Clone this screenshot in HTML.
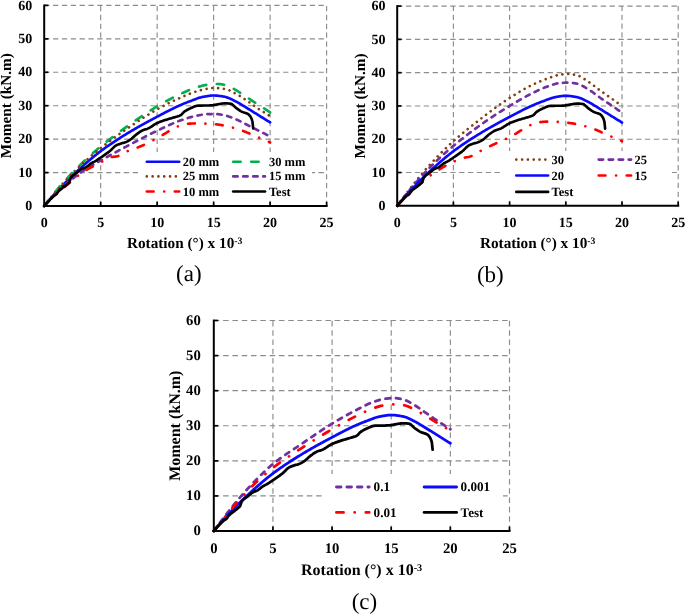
<!DOCTYPE html>
<html><head><meta charset="utf-8"><title>Moment-rotation curves</title>
<style>
html,body{margin:0;padding:0;background:#fff}
svg{display:block;text-rendering:geometricPrecision;will-change:transform}
.b{font-family:"Liberation Serif",serif;font-weight:bold;fill:#000}
.r{font-family:"Liberation Serif",serif;fill:#000}
.g{stroke:#8c8c8c;stroke-width:1.15;fill:none}
.ax{stroke:#000;stroke-width:2;fill:none}
.tk{stroke:#000;stroke-width:1.7;fill:none}
</style></head><body>
<svg width="685" height="616" viewBox="0 0 685 616">
<rect width="685" height="616" fill="#fff"/>
<line x1="44.20" y1="172.57" x2="326.60" y2="172.57" class="g" stroke-dasharray="5.30 3.55"/>
<line x1="44.20" y1="139.13" x2="326.60" y2="139.13" class="g" stroke-dasharray="5.30 3.55"/>
<line x1="44.20" y1="105.70" x2="326.60" y2="105.70" class="g" stroke-dasharray="5.30 3.55"/>
<line x1="44.20" y1="72.27" x2="326.60" y2="72.27" class="g" stroke-dasharray="5.30 3.55"/>
<line x1="44.20" y1="38.83" x2="326.60" y2="38.83" class="g" stroke-dasharray="5.30 3.55"/>
<line x1="44.20" y1="5.40" x2="326.60" y2="5.40" class="g" stroke-dasharray="5.30 3.55"/>
<line x1="100.68" y1="206.00" x2="100.68" y2="5.40" class="g" stroke-dasharray="5.30 3.55"/>
<line x1="157.16" y1="206.00" x2="157.16" y2="5.40" class="g" stroke-dasharray="5.30 3.55"/>
<line x1="213.64" y1="206.00" x2="213.64" y2="5.40" class="g" stroke-dasharray="5.30 3.55"/>
<line x1="270.12" y1="206.00" x2="270.12" y2="5.40" class="g" stroke-dasharray="5.30 3.55"/>
<line x1="326.60" y1="206.00" x2="326.60" y2="5.40" class="g" stroke-dasharray="5.30 3.55"/>
<polyline points="44.20,206.00 44.96,205.09 45.71,204.18 46.47,203.28 47.22,202.39 47.98,201.50 48.73,200.61 49.49,199.73 50.24,198.86 51.00,197.99 51.76,197.13 52.51,196.28 53.27,195.43 54.02,194.59 54.78,193.75 55.53,192.92 56.29,192.10 57.04,191.28 57.80,190.46 58.56,189.66 59.31,188.85 60.07,188.06 60.82,187.26 61.58,186.47 62.33,185.69 63.09,184.91 63.85,184.14 64.60,183.37 65.36,182.60 66.11,181.84 66.87,181.08 67.62,180.33 68.38,179.58 69.13,178.84 69.89,178.10 70.65,177.36 71.40,176.63 72.16,175.90 72.91,175.17 73.67,174.45 74.42,173.73 75.18,173.02 75.93,172.31 76.69,171.60 77.45,170.90 78.20,170.20 78.96,169.50 79.71,168.81 80.47,168.13 81.22,167.45 81.98,166.77 82.73,166.10 83.49,165.43 84.25,164.76 85.00,164.10 85.76,163.44 86.51,162.78 87.27,162.12 88.02,161.47 88.78,160.82 89.54,160.17 90.29,159.52 91.05,158.88 91.80,158.24 92.56,157.61 93.31,156.98 94.07,156.36 94.82,155.74 95.58,155.13 96.34,154.52 97.09,153.92 97.85,153.33 98.60,152.74 99.36,152.16 100.11,151.59 100.87,151.03 101.62,150.47 102.38,149.92 103.14,149.37 103.89,148.82 104.65,148.28 105.40,147.74 106.16,147.20 106.91,146.67 107.67,146.14 108.42,145.62 109.18,145.10 109.94,144.58 110.69,144.06 111.45,143.55 112.20,143.04 112.96,142.54 113.71,142.04 114.47,141.54 115.23,141.04 115.98,140.55 116.74,140.06 117.49,139.57 118.25,139.08 119.00,138.60 119.76,138.12 120.51,137.64 121.27,137.16 122.03,136.69 122.78,136.21 123.54,135.74 124.29,135.28 125.05,134.81 125.80,134.35 126.56,133.88 127.31,133.42 128.07,132.96 128.83,132.50 129.58,132.05 130.34,131.59 131.09,131.14 131.85,130.70 132.60,130.25 133.36,129.81 134.11,129.37 134.87,128.93 135.63,128.49 136.38,128.06 137.14,127.62 137.89,127.19 138.65,126.77 139.40,126.34 140.16,125.92 140.91,125.49 141.67,125.07 142.43,124.66 143.18,124.24 143.94,123.82 144.69,123.41 145.45,123.00 146.20,122.58 146.96,122.17 147.72,121.77 148.47,121.36 149.23,120.95 149.98,120.55 150.74,120.14 151.49,119.74 152.25,119.33 153.00,118.93 153.76,118.53 154.52,118.13 155.27,117.73 156.03,117.33 156.78,116.93 157.54,116.53 158.29,116.13 159.05,115.73 159.80,115.33 160.56,114.93 161.32,114.54 162.07,114.14 162.83,113.74 163.58,113.34 164.34,112.94 165.09,112.55 165.85,112.15 166.60,111.76 167.36,111.37 168.12,110.98 168.87,110.59 169.63,110.20 170.38,109.82 171.14,109.44 171.89,109.06 172.65,108.69 173.41,108.32 174.16,107.95 174.92,107.59 175.67,107.23 176.43,106.88 177.18,106.52 177.94,106.18 178.69,105.84 179.45,105.50 180.21,105.17 180.96,104.84 181.72,104.52 182.47,104.20 183.23,103.89 183.98,103.58 184.74,103.27 185.49,102.97 186.25,102.67 187.01,102.38 187.76,102.09 188.52,101.80 189.27,101.51 190.03,101.23 190.78,100.95 191.54,100.67 192.29,100.38 193.05,100.09 193.81,99.79 194.56,99.50 195.32,99.20 196.07,98.91 196.83,98.63 197.58,98.36 198.34,98.10 199.09,97.85 199.85,97.62 200.61,97.41 201.36,97.22 202.12,97.05 202.87,96.91 203.63,96.76 204.38,96.62 205.14,96.47 205.90,96.34 206.65,96.20 207.41,96.08 208.16,95.96 208.92,95.85 209.67,95.76 210.43,95.67 211.18,95.61 211.94,95.55 212.70,95.52 213.45,95.50 214.21,95.51 214.96,95.53 215.72,95.56 216.47,95.61 217.23,95.68 217.98,95.75 218.74,95.84 219.50,95.94 220.25,96.04 221.01,96.16 221.76,96.28 222.52,96.41 223.27,96.54 224.03,96.67 224.78,96.81 225.54,96.97 226.30,97.16 227.05,97.39 227.81,97.65 228.56,97.94 229.32,98.25 230.07,98.59 230.83,98.94 231.59,99.31 232.34,99.69 233.10,100.08 233.85,100.47 234.61,100.86 235.36,101.25 236.12,101.63 236.87,102.01 237.63,102.41 238.39,102.82 239.14,103.25 239.90,103.69 240.65,104.13 241.41,104.59 242.16,105.05 242.92,105.52 243.67,105.99 244.43,106.46 245.19,106.93 245.94,107.40 246.70,107.87 247.45,108.33 248.21,108.79 248.96,109.25 249.72,109.72 250.47,110.18 251.23,110.65 251.99,111.12 252.74,111.59 253.50,112.06 254.25,112.54 255.01,113.01 255.76,113.48 256.52,113.96 257.28,114.43 258.03,114.90 258.79,115.37 259.54,115.84 260.30,116.31 261.05,116.78 261.81,117.25 262.56,117.72 263.32,118.19 264.08,118.66 264.83,119.13 265.59,119.60 266.34,120.07 267.10,120.54 267.85,121.01 268.61,121.48 269.36,121.95 270.12,122.42" fill="none" stroke="#0a0aff" stroke-width="2.65" stroke-linejoin="round" stroke-linecap="round"/>
<polyline points="44.20,206.00 44.96,204.99 45.71,203.99 46.47,203.00 47.22,202.01 47.98,201.03 48.73,200.05 49.49,199.08 50.24,198.12 51.00,197.16 51.76,196.21 52.51,195.27 53.27,194.34 54.02,193.41 54.78,192.49 55.53,191.58 56.29,190.67 57.04,189.77 57.80,188.88 58.56,187.99 59.31,187.11 60.07,186.23 60.82,185.36 61.58,184.49 62.33,183.63 63.09,182.78 63.85,181.93 64.60,181.09 65.36,180.25 66.11,179.42 66.87,178.59 67.62,177.78 68.38,176.96 69.13,176.16 69.89,175.35 70.65,174.56 71.40,173.77 72.16,172.98 72.91,172.20 73.67,171.42 74.42,170.65 75.18,169.89 75.93,169.13 76.69,168.37 77.45,167.62 78.20,166.87 78.96,166.13 79.71,165.39 80.47,164.66 81.22,163.93 81.98,163.20 82.73,162.48 83.49,161.77 84.25,161.05 85.00,160.34 85.76,159.64 86.51,158.94 87.27,158.24 88.02,157.54 88.78,156.85 89.54,156.16 90.29,155.48 91.05,154.80 91.80,154.12 92.56,153.45 93.31,152.78 94.07,152.11 94.82,151.45 95.58,150.80 96.34,150.15 97.09,149.50 97.85,148.86 98.60,148.22 99.36,147.58 100.11,146.96 100.87,146.33 101.62,145.71 102.38,145.10 103.14,144.48 103.89,143.87 104.65,143.27 105.40,142.66 106.16,142.06 106.91,141.46 107.67,140.87 108.42,140.28 109.18,139.69 109.94,139.10 110.69,138.51 111.45,137.93 112.20,137.35 112.96,136.78 113.71,136.20 114.47,135.63 115.23,135.06 115.98,134.49 116.74,133.93 117.49,133.37 118.25,132.81 119.00,132.25 119.76,131.69 120.51,131.14 121.27,130.58 122.03,130.03 122.78,129.48 123.54,128.94 124.29,128.39 125.05,127.85 125.80,127.31 126.56,126.77 127.31,126.23 128.07,125.69 128.83,125.16 129.58,124.62 130.34,124.09 131.09,123.56 131.85,123.03 132.60,122.49 133.36,121.97 134.11,121.44 134.87,120.91 135.63,120.38 136.38,119.86 137.14,119.33 137.89,118.81 138.65,118.29 139.40,117.78 140.16,117.26 140.91,116.74 141.67,116.23 142.43,115.72 143.18,115.22 143.94,114.71 144.69,114.21 145.45,113.71 146.20,113.21 146.96,112.72 147.72,112.23 148.47,111.74 149.23,111.25 149.98,110.77 150.74,110.29 151.49,109.82 152.25,109.34 153.00,108.88 153.76,108.41 154.52,107.95 155.27,107.49 156.03,107.04 156.78,106.59 157.54,106.15 158.29,105.70 159.05,105.26 159.80,104.83 160.56,104.39 161.32,103.96 162.07,103.53 162.83,103.10 163.58,102.67 164.34,102.25 165.09,101.83 165.85,101.41 166.60,101.00 167.36,100.59 168.12,100.18 168.87,99.78 169.63,99.37 170.38,98.98 171.14,98.58 171.89,98.19 172.65,97.80 173.41,97.42 174.16,97.03 174.92,96.66 175.67,96.28 176.43,95.91 177.18,95.55 177.94,95.18 178.69,94.83 179.45,94.47 180.21,94.12 180.96,93.77 181.72,93.42 182.47,93.07 183.23,92.72 183.98,92.37 184.74,92.02 185.49,91.68 186.25,91.34 187.01,91.00 187.76,90.67 188.52,90.34 189.27,90.02 190.03,89.71 190.78,89.40 191.54,89.10 192.29,88.81 193.05,88.53 193.81,88.25 194.56,87.99 195.32,87.74 196.07,87.50 196.83,87.27 197.58,87.05 198.34,86.83 199.09,86.60 199.85,86.39 200.61,86.18 201.36,85.97 202.12,85.77 202.87,85.58 203.63,85.40 204.38,85.23 205.14,85.08 205.90,84.94 206.65,84.81 207.41,84.71 208.16,84.62 208.92,84.53 209.67,84.45 210.43,84.37 211.18,84.30 211.94,84.23 212.70,84.16 213.45,84.11 214.21,84.06 214.96,84.02 215.72,83.99 216.47,83.97 217.23,83.97 217.98,83.99 218.74,84.03 219.50,84.10 220.25,84.18 221.01,84.28 221.76,84.40 222.52,84.52 223.27,84.66 224.03,84.80 224.78,84.94 225.54,85.10 226.30,85.31 227.05,85.56 227.81,85.84 228.56,86.16 229.32,86.51 230.07,86.88 230.83,87.27 231.59,87.68 232.34,88.11 233.10,88.54 233.85,88.97 234.61,89.41 235.36,89.84 236.12,90.26 236.87,90.68 237.63,91.12 238.39,91.58 239.14,92.05 239.90,92.53 240.65,93.03 241.41,93.53 242.16,94.05 242.92,94.56 243.67,95.08 244.43,95.60 245.19,96.11 245.94,96.62 246.70,97.13 247.45,97.63 248.21,98.12 248.96,98.61 249.72,99.10 250.47,99.59 251.23,100.09 251.99,100.58 252.74,101.07 253.50,101.56 254.25,102.05 255.01,102.55 255.76,103.04 256.52,103.53 257.28,104.02 258.03,104.51 258.79,105.01 259.54,105.50 260.30,105.99 261.05,106.48 261.81,106.97 262.56,107.47 263.32,107.96 264.08,108.45 264.83,108.94 265.59,109.43 266.34,109.93 267.10,110.42 267.85,110.91 268.61,111.40 269.36,111.89 270.12,112.39" fill="none" stroke="#00b050" stroke-width="2.65" stroke-linejoin="round" stroke-linecap="round" stroke-dasharray="7.40 10.60"/>
<polyline points="44.20,206.00 44.96,205.02 45.71,204.04 46.47,203.07 47.22,202.10 47.98,201.14 48.73,200.19 49.49,199.24 50.24,198.30 51.00,197.37 51.76,196.44 52.51,195.52 53.27,194.61 54.02,193.70 54.78,192.80 55.53,191.91 56.29,191.03 57.04,190.15 57.80,189.27 58.56,188.41 59.31,187.54 60.07,186.68 60.82,185.83 61.58,184.98 62.33,184.14 63.09,183.31 63.85,182.48 64.60,181.65 65.36,180.83 66.11,180.02 66.87,179.21 67.62,178.41 68.38,177.62 69.13,176.83 69.89,176.04 70.65,175.26 71.40,174.49 72.16,173.72 72.91,172.95 73.67,172.19 74.42,171.43 75.18,170.68 75.93,169.94 76.69,169.19 77.45,168.46 78.20,167.73 78.96,167.00 79.71,166.28 80.47,165.57 81.22,164.86 81.98,164.15 82.73,163.45 83.49,162.76 84.25,162.07 85.00,161.39 85.76,160.71 86.51,160.04 87.27,159.37 88.02,158.70 88.78,158.04 89.54,157.39 90.29,156.73 91.05,156.09 91.80,155.44 92.56,154.80 93.31,154.17 94.07,153.53 94.82,152.90 95.58,152.28 96.34,151.66 97.09,151.04 97.85,150.43 98.60,149.82 99.36,149.21 100.11,148.61 100.87,148.01 101.62,147.41 102.38,146.82 103.14,146.23 103.89,145.64 104.65,145.05 105.40,144.47 106.16,143.89 106.91,143.31 107.67,142.74 108.42,142.16 109.18,141.59 109.94,141.02 110.69,140.45 111.45,139.89 112.20,139.33 112.96,138.77 113.71,138.21 114.47,137.66 115.23,137.10 115.98,136.55 116.74,136.00 117.49,135.46 118.25,134.91 119.00,134.37 119.76,133.83 120.51,133.29 121.27,132.75 122.03,132.22 122.78,131.69 123.54,131.16 124.29,130.63 125.05,130.10 125.80,129.58 126.56,129.05 127.31,128.53 128.07,128.01 128.83,127.50 129.58,126.98 130.34,126.46 131.09,125.95 131.85,125.43 132.60,124.92 133.36,124.41 134.11,123.90 134.87,123.39 135.63,122.88 136.38,122.37 137.14,121.86 137.89,121.36 138.65,120.86 139.40,120.35 140.16,119.85 140.91,119.36 141.67,118.86 142.43,118.37 143.18,117.88 143.94,117.39 144.69,116.91 145.45,116.42 146.20,115.94 146.96,115.47 147.72,114.99 148.47,114.52 149.23,114.06 149.98,113.59 150.74,113.13 151.49,112.68 152.25,112.22 153.00,111.77 153.76,111.33 154.52,110.89 155.27,110.45 156.03,110.02 156.78,109.59 157.54,109.17 158.29,108.75 159.05,108.33 159.80,107.91 160.56,107.50 161.32,107.09 162.07,106.68 162.83,106.28 163.58,105.87 164.34,105.48 165.09,105.08 165.85,104.69 166.60,104.30 167.36,103.91 168.12,103.52 168.87,103.14 169.63,102.77 170.38,102.39 171.14,102.02 171.89,101.65 172.65,101.28 173.41,100.92 174.16,100.56 174.92,100.21 175.67,99.86 176.43,99.51 177.18,99.16 177.94,98.82 178.69,98.48 179.45,98.14 180.21,97.81 180.96,97.48 181.72,97.14 182.47,96.81 183.23,96.48 183.98,96.15 184.74,95.82 185.49,95.50 186.25,95.18 187.01,94.86 187.76,94.54 188.52,94.23 189.27,93.93 190.03,93.63 190.78,93.34 191.54,93.05 192.29,92.77 193.05,92.50 193.81,92.24 194.56,91.99 195.32,91.74 196.07,91.51 196.83,91.29 197.58,91.07 198.34,90.85 199.09,90.64 199.85,90.43 200.61,90.23 201.36,90.04 202.12,89.85 202.87,89.66 203.63,89.49 204.38,89.32 205.14,89.16 205.90,89.01 206.65,88.87 207.41,88.74 208.16,88.62 208.92,88.50 209.67,88.38 210.43,88.26 211.18,88.16 211.94,88.07 212.70,88.01 213.45,87.98 214.21,87.98 214.96,88.00 215.72,88.02 216.47,88.06 217.23,88.10 217.98,88.16 218.74,88.22 219.50,88.29 220.25,88.37 221.01,88.46 221.76,88.55 222.52,88.64 223.27,88.75 224.03,88.85 224.78,88.96 225.54,89.09 226.30,89.27 227.05,89.49 227.81,89.75 228.56,90.04 229.32,90.37 230.07,90.72 230.83,91.09 231.59,91.48 232.34,91.89 233.10,92.30 233.85,92.71 234.61,93.13 235.36,93.54 236.12,93.94 236.87,94.34 237.63,94.75 238.39,95.18 239.14,95.62 239.90,96.07 240.65,96.53 241.41,97.00 242.16,97.49 242.92,97.97 243.67,98.47 244.43,98.96 245.19,99.46 245.94,99.96 246.70,100.47 247.45,100.97 248.21,101.48 248.96,101.99 249.72,102.52 250.47,103.06 251.23,103.61 251.99,104.16 252.74,104.71 253.50,105.27 254.25,105.82 255.01,106.37 255.76,106.92 256.52,107.46 257.28,107.99 258.03,108.51 258.79,109.02 259.54,109.52 260.30,110.01 261.05,110.50 261.81,110.99 262.56,111.47 263.32,111.95 264.08,112.43 264.83,112.90 265.59,113.36 266.34,113.83 267.10,114.28 267.85,114.73 268.61,115.18 269.36,115.63 270.12,116.06" fill="none" stroke="#843c0c" stroke-width="2.65" stroke-linejoin="round" stroke-linecap="round" stroke-dasharray="0.01 5.80"/>
<polyline points="44.20,206.00 44.96,205.15 45.71,204.30 46.47,203.45 47.22,202.62 47.98,201.79 48.73,200.97 49.49,200.16 50.24,199.35 51.00,198.55 51.76,197.76 52.51,196.97 53.27,196.20 54.02,195.43 54.78,194.68 55.53,193.93 56.29,193.18 57.04,192.45 57.80,191.72 58.56,190.99 59.31,190.27 60.07,189.56 60.82,188.85 61.58,188.15 62.33,187.45 63.09,186.76 63.85,186.08 64.60,185.41 65.36,184.74 66.11,184.08 66.87,183.43 67.62,182.79 68.38,182.15 69.13,181.53 69.89,180.90 70.65,180.29 71.40,179.68 72.16,179.07 72.91,178.47 73.67,177.88 74.42,177.29 75.18,176.71 75.93,176.13 76.69,175.56 77.45,174.99 78.20,174.44 78.96,173.88 79.71,173.34 80.47,172.80 81.22,172.27 81.98,171.75 82.73,171.23 83.49,170.72 84.25,170.22 85.00,169.73 85.76,169.25 86.51,168.77 87.27,168.30 88.02,167.83 88.78,167.37 89.54,166.92 90.29,166.47 91.05,166.02 91.80,165.58 92.56,165.14 93.31,164.71 94.07,164.28 94.82,163.84 95.58,163.42 96.34,162.99 97.09,162.56 97.85,162.13 98.60,161.71 99.36,161.28 100.11,160.85 100.87,160.42 101.62,159.99 102.38,159.57 103.14,159.14 103.89,158.71 104.65,158.29 105.40,157.87 106.16,157.44 106.91,157.02 107.67,156.60 108.42,156.18 109.18,155.77 109.94,155.35 110.69,154.93 111.45,154.52 112.20,154.10 112.96,153.69 113.71,153.28 114.47,152.87 115.23,152.46 115.98,152.05 116.74,151.64 117.49,151.23 118.25,150.83 119.00,150.42 119.76,150.01 120.51,149.61 121.27,149.21 122.03,148.80 122.78,148.40 123.54,148.00 124.29,147.60 125.05,147.20 125.80,146.80 126.56,146.40 127.31,146.00 128.07,145.60 128.83,145.20 129.58,144.80 130.34,144.41 131.09,144.01 131.85,143.61 132.60,143.21 133.36,142.82 134.11,142.42 134.87,142.02 135.63,141.63 136.38,141.23 137.14,140.84 137.89,140.44 138.65,140.05 139.40,139.66 140.16,139.26 140.91,138.87 141.67,138.48 142.43,138.09 143.18,137.70 143.94,137.32 144.69,136.93 145.45,136.54 146.20,136.16 146.96,135.78 147.72,135.40 148.47,135.02 149.23,134.64 149.98,134.26 150.74,133.89 151.49,133.51 152.25,133.14 153.00,132.77 153.76,132.41 154.52,132.04 155.27,131.68 156.03,131.31 156.78,130.95 157.54,130.60 158.29,130.24 159.05,129.88 159.80,129.52 160.56,129.15 161.32,128.79 162.07,128.43 162.83,128.07 163.58,127.71 164.34,127.35 165.09,126.99 165.85,126.63 166.60,126.28 167.36,125.92 168.12,125.57 168.87,125.23 169.63,124.88 170.38,124.54 171.14,124.21 171.89,123.87 172.65,123.55 173.41,123.22 174.16,122.91 174.92,122.59 175.67,122.29 176.43,121.99 177.18,121.69 177.94,121.40 178.69,121.12 179.45,120.85 180.21,120.59 180.96,120.32 181.72,120.06 182.47,119.80 183.23,119.54 183.98,119.28 184.74,119.02 185.49,118.77 186.25,118.53 187.01,118.28 187.76,118.04 188.52,117.81 189.27,117.58 190.03,117.36 190.78,117.15 191.54,116.94 192.29,116.74 193.05,116.54 193.81,116.36 194.56,116.18 195.32,116.01 196.07,115.85 196.83,115.70 197.58,115.56 198.34,115.40 199.09,115.25 199.85,115.10 200.61,114.95 201.36,114.80 202.12,114.66 202.87,114.53 203.63,114.41 204.38,114.31 205.14,114.22 205.90,114.15 206.65,114.10 207.41,114.07 208.16,114.06 208.92,114.06 209.67,114.06 210.43,114.06 211.18,114.06 211.94,114.06 212.70,114.06 213.45,114.06 214.21,114.06 214.96,114.06 215.72,114.06 216.47,114.07 217.23,114.10 217.98,114.16 218.74,114.25 219.50,114.35 220.25,114.47 221.01,114.60 221.76,114.74 222.52,114.89 223.27,115.05 224.03,115.21 224.78,115.36 225.54,115.53 226.30,115.71 227.05,115.92 227.81,116.14 228.56,116.39 229.32,116.64 230.07,116.91 230.83,117.20 231.59,117.49 232.34,117.79 233.10,118.10 233.85,118.41 234.61,118.73 235.36,119.04 236.12,119.36 236.87,119.68 237.63,120.02 238.39,120.37 239.14,120.73 239.90,121.11 240.65,121.49 241.41,121.88 242.16,122.28 242.92,122.68 243.67,123.08 244.43,123.48 245.19,123.88 245.94,124.28 246.70,124.67 247.45,125.05 248.21,125.43 248.96,125.81 249.72,126.19 250.47,126.57 251.23,126.95 251.99,127.33 252.74,127.71 253.50,128.09 254.25,128.47 255.01,128.86 255.76,129.24 256.52,129.62 257.28,130.00 258.03,130.38 258.79,130.76 259.54,131.14 260.30,131.52 261.05,131.90 261.81,132.28 262.56,132.66 263.32,133.04 264.08,133.42 264.83,133.80 265.59,134.18 266.34,134.56 267.10,134.94 267.85,135.32 268.61,135.70 269.36,136.08 270.12,136.46" fill="none" stroke="#7030a0" stroke-width="2.65" stroke-linejoin="round" stroke-linecap="round" stroke-dasharray="4.40 5.60"/>
<polyline points="44.20,206.00 44.96,205.23 45.71,204.46 46.47,203.69 47.22,202.93 47.98,202.17 48.73,201.42 49.49,200.68 50.24,199.94 51.00,199.21 51.76,198.48 52.51,197.76 53.27,197.04 54.02,196.33 54.78,195.63 55.53,194.93 56.29,194.24 57.04,193.56 57.80,192.88 58.56,192.21 59.31,191.54 60.07,190.88 60.82,190.22 61.58,189.56 62.33,188.91 63.09,188.27 63.85,187.62 64.60,186.98 65.36,186.35 66.11,185.71 66.87,185.08 67.62,184.45 68.38,183.82 69.13,183.20 69.89,182.57 70.65,181.93 71.40,181.29 72.16,180.65 72.91,180.00 73.67,179.36 74.42,178.72 75.18,178.08 75.93,177.45 76.69,176.83 77.45,176.21 78.20,175.60 78.96,175.00 79.71,174.41 80.47,173.84 81.22,173.29 81.98,172.75 82.73,172.22 83.49,171.72 84.25,171.24 85.00,170.77 85.76,170.32 86.51,169.87 87.27,169.44 88.02,169.02 88.78,168.60 89.54,168.20 90.29,167.80 91.05,167.41 91.80,167.02 92.56,166.64 93.31,166.26 94.07,165.88 94.82,165.50 95.58,165.13 96.34,164.75 97.09,164.38 97.85,164.00 98.60,163.61 99.36,163.23 100.11,162.83 100.87,162.44 101.62,162.01 102.38,161.57 103.14,161.10 103.89,160.63 104.65,160.16 105.40,159.69 106.16,159.24 106.91,158.81 107.67,158.40 108.42,158.03 109.18,157.71 109.94,157.44 110.69,157.22 111.45,157.06 112.20,156.94 112.96,156.83 113.71,156.75 114.47,156.66 115.23,156.57 115.98,156.48 116.74,156.36 117.49,156.21 118.25,156.02 119.00,155.75 119.76,155.41 120.51,155.03 121.27,154.61 122.03,154.16 122.78,153.69 123.54,153.22 124.29,152.76 125.05,152.32 125.80,151.91 126.56,151.55 127.31,151.22 128.07,150.91 128.83,150.62 129.58,150.33 130.34,150.05 131.09,149.78 131.85,149.52 132.60,149.25 133.36,149.00 134.11,148.74 134.87,148.48 135.63,148.22 136.38,147.96 137.14,147.68 137.89,147.41 138.65,147.12 139.40,146.82 140.16,146.51 140.91,146.19 141.67,145.86 142.43,145.53 143.18,145.19 143.94,144.84 144.69,144.49 145.45,144.13 146.20,143.77 146.96,143.40 147.72,143.03 148.47,142.65 149.23,142.27 149.98,141.89 150.74,141.50 151.49,141.11 152.25,140.72 153.00,140.32 153.76,139.93 154.52,139.53 155.27,139.13 156.03,138.73 156.78,138.33 157.54,137.93 158.29,137.52 159.05,137.10 159.80,136.67 160.56,136.23 161.32,135.78 162.07,135.34 162.83,134.88 163.58,134.43 164.34,133.97 165.09,133.51 165.85,133.05 166.60,132.60 167.36,132.15 168.12,131.70 168.87,131.25 169.63,130.82 170.38,130.39 171.14,129.97 171.89,129.56 172.65,129.16 173.41,128.78 174.16,128.41 174.92,128.03 175.67,127.63 176.43,127.23 177.18,126.82 177.94,126.42 178.69,126.02 179.45,125.64 180.21,125.29 180.96,124.97 181.72,124.68 182.47,124.44 183.23,124.25 183.98,124.12 184.74,124.04 185.49,123.97 186.25,123.91 187.01,123.84 187.76,123.78 188.52,123.73 189.27,123.68 190.03,123.63 190.78,123.59 191.54,123.55 192.29,123.51 193.05,123.48 193.81,123.46 194.56,123.44 195.32,123.43 196.07,123.42 196.83,123.42 197.58,123.42 198.34,123.43 199.09,123.44 199.85,123.45 200.61,123.47 201.36,123.48 202.12,123.50 202.87,123.53 203.63,123.56 204.38,123.58 205.14,123.62 205.90,123.65 206.65,123.68 207.41,123.72 208.16,123.76 208.92,123.80 209.67,123.84 210.43,123.89 211.18,123.93 211.94,123.98 212.70,124.03 213.45,124.08 214.21,124.13 214.96,124.19 215.72,124.27 216.47,124.35 217.23,124.45 217.98,124.55 218.74,124.66 219.50,124.78 220.25,124.91 221.01,125.04 221.76,125.17 222.52,125.31 223.27,125.45 224.03,125.59 224.78,125.73 225.54,125.88 226.30,126.03 227.05,126.19 227.81,126.36 228.56,126.54 229.32,126.72 230.07,126.91 230.83,127.11 231.59,127.31 232.34,127.52 233.10,127.73 233.85,127.95 234.61,128.17 235.36,128.39 236.12,128.62 236.87,128.86 237.63,129.10 238.39,129.34 239.14,129.58 239.90,129.83 240.65,130.07 241.41,130.33 242.16,130.59 242.92,130.87 243.67,131.15 244.43,131.45 245.19,131.75 245.94,132.05 246.70,132.37 247.45,132.68 248.21,133.00 248.96,133.33 249.72,133.65 250.47,133.97 251.23,134.30 251.99,134.62 252.74,134.94 253.50,135.26 254.25,135.57 255.01,135.89 255.76,136.21 256.52,136.53 257.28,136.85 258.03,137.17 258.79,137.49 259.54,137.82 260.30,138.14 261.05,138.47 261.81,138.80 262.56,139.12 263.32,139.45 264.08,139.79 264.83,140.12 265.59,140.45 266.34,140.79 267.10,141.12 267.85,141.46 268.61,141.80 269.36,142.14 270.12,142.48" fill="none" stroke="#ff0000" stroke-width="2.65" stroke-linejoin="round" stroke-linecap="round" stroke-dasharray="6.80 10.60 0.01 10.60"/>
<polyline points="44.20,206.00 44.90,205.19 45.60,204.40 46.30,203.61 47.00,202.84 47.69,202.09 48.39,201.34 49.09,200.61 49.79,199.89 50.49,199.16 51.19,198.45 51.89,197.76 52.59,197.09 53.29,196.47 53.98,195.91 54.68,195.45 55.38,195.02 56.08,194.52 56.78,193.82 57.48,192.71 58.18,191.63 58.88,190.87 59.58,190.22 60.28,189.64 60.97,189.11 61.67,188.59 62.37,188.07 63.07,187.52 63.77,186.97 64.47,186.44 65.17,185.91 65.87,185.38 66.57,184.82 67.26,184.22 67.96,183.60 68.66,182.99 69.36,182.15 70.06,180.11 70.76,178.05 71.46,177.08 72.16,176.28 72.86,175.62 73.55,175.06 74.25,174.58 74.95,174.13 75.65,173.68 76.35,173.21 77.05,172.66 77.75,172.06 78.45,171.45 79.15,170.85 79.84,170.27 80.54,169.73 81.24,169.26 81.94,168.87 82.64,168.54 83.34,168.26 84.04,168.00 84.74,167.73 85.44,167.44 86.13,167.10 86.83,166.67 87.53,166.16 88.23,165.60 88.93,165.01 89.63,164.43 90.33,163.90 91.03,163.43 91.73,163.02 92.43,162.65 93.12,162.29 93.82,161.93 94.52,161.57 95.22,161.19 95.92,160.77 96.62,160.33 97.32,159.88 98.02,159.41 98.72,158.94 99.41,158.45 100.11,157.97 100.81,157.49 101.51,157.00 102.21,156.53 102.91,156.05 103.61,155.58 104.31,155.10 105.01,154.62 105.70,154.13 106.40,153.64 107.10,153.14 107.80,152.63 108.50,152.11 109.20,151.58 109.90,151.02 110.60,150.41 111.30,149.75 111.99,149.05 112.69,148.34 113.39,147.63 114.09,146.96 114.79,146.33 115.49,145.78 116.19,145.32 116.89,144.96 117.59,144.65 118.29,144.38 118.98,144.14 119.68,143.91 120.38,143.68 121.08,143.46 121.78,143.24 122.48,143.05 123.18,142.86 123.88,142.67 124.58,142.47 125.27,142.24 125.97,141.97 126.67,141.67 127.37,141.33 128.07,140.97 128.77,140.58 129.47,140.16 130.17,139.73 130.87,139.24 131.56,138.69 132.26,138.10 132.96,137.48 133.66,136.84 134.36,136.20 135.06,135.57 135.76,134.96 136.46,134.40 137.16,133.88 137.85,133.37 138.55,132.86 139.25,132.36 139.95,131.89 140.65,131.44 141.35,131.02 142.05,130.65 142.75,130.32 143.45,130.04 144.15,129.79 144.84,129.56 145.54,129.35 146.24,129.13 146.94,128.89 147.64,128.63 148.34,128.34 149.04,128.00 149.74,127.62 150.44,127.21 151.13,126.77 151.83,126.32 152.53,125.86 153.23,125.39 153.93,124.93 154.63,124.48 155.33,124.06 156.03,123.66 156.73,123.29 157.42,122.97 158.12,122.66 158.82,122.37 159.52,122.08 160.22,121.81 160.92,121.55 161.62,121.29 162.32,121.04 163.02,120.80 163.71,120.56 164.41,120.33 165.11,120.10 165.81,119.87 166.51,119.64 167.21,119.42 167.91,119.21 168.61,119.00 169.31,118.80 170.00,118.60 170.70,118.41 171.40,118.21 172.10,118.01 172.80,117.80 173.50,117.59 174.20,117.37 174.90,117.16 175.60,116.96 176.30,116.76 176.99,116.57 177.69,116.36 178.39,116.13 179.09,115.88 179.79,115.59 180.49,115.27 181.19,114.87 181.89,114.24 182.59,113.46 183.28,112.65 183.98,111.95 184.68,111.43 185.38,110.96 186.08,110.52 186.78,110.11 187.48,109.72 188.18,109.36 188.88,109.01 189.57,108.69 190.27,108.37 190.97,108.07 191.67,107.77 192.37,107.46 193.07,107.14 193.77,106.83 194.47,106.54 195.17,106.28 195.86,106.05 196.56,105.88 197.26,105.75 197.96,105.69 198.66,105.66 199.36,105.63 200.06,105.61 200.76,105.59 201.46,105.57 202.16,105.56 202.85,105.55 203.55,105.54 204.25,105.53 204.95,105.52 205.65,105.51 206.35,105.50 207.05,105.49 207.75,105.48 208.45,105.46 209.14,105.45 209.84,105.43 210.54,105.40 211.24,105.37 211.94,105.33 212.64,105.26 213.34,105.16 214.04,105.04 214.74,104.91 215.43,104.77 216.13,104.62 216.83,104.47 217.53,104.33 218.23,104.20 218.93,104.08 219.63,103.98 220.33,103.87 221.03,103.76 221.72,103.65 222.42,103.55 223.12,103.47 223.82,103.40 224.52,103.37 225.22,103.36 225.92,103.37 226.62,103.39 227.32,103.42 228.02,103.47 228.71,103.52 229.41,103.58 230.11,103.64 230.81,103.73 231.51,103.99 232.21,104.42 232.91,104.99 233.61,105.64 234.31,106.33 235.00,107.01 235.70,107.63 236.40,108.16 237.10,108.66 237.80,109.16 238.50,109.65 239.20,110.13 239.90,110.59 240.60,111.03 241.29,111.42 241.99,111.77 242.69,112.07 243.39,112.31 244.09,112.53 244.79,112.73 245.49,112.94 246.19,113.17 246.89,113.44 247.58,113.77 248.28,114.18 248.98,114.76 249.68,115.54 250.38,116.52 251.08,117.69 251.78,119.24 252.48,121.76 253.18,128.43" fill="none" stroke="#000000" stroke-width="2.65" stroke-linejoin="round" stroke-linecap="round"/>
<rect x="141" y="152" width="171" height="48.5" fill="#fff"/>
<line x1="146.8" y1="161.7" x2="179.2" y2="161.7" stroke="#0a0aff" stroke-width="2.65" stroke-linecap="round"/>
<text x="182.8" y="165.76" class="b" font-size="12.50">20 mm</text>
<line x1="233.2" y1="161.7" x2="265.0" y2="161.7" stroke="#00b050" stroke-width="2.65" stroke-linecap="round" stroke-dasharray="7.40 10.60"/>
<text x="268.9" y="165.76" class="b" font-size="12.50">30 mm</text>
<line x1="146.8" y1="176.4" x2="179.2" y2="176.4" stroke="#843c0c" stroke-width="2.65" stroke-linecap="round" stroke-dasharray="0.01 5.80"/>
<text x="182.8" y="180.46" class="b" font-size="12.50">25 mm</text>
<line x1="233.2" y1="176.4" x2="265.0" y2="176.4" stroke="#7030a0" stroke-width="2.65" stroke-linecap="round" stroke-dasharray="4.40 5.60"/>
<text x="268.9" y="180.46" class="b" font-size="12.50">15 mm</text>
<line x1="146.8" y1="191.5" x2="179.2" y2="191.5" stroke="#ff0000" stroke-width="2.65" stroke-linecap="round" stroke-dasharray="6.80 10.60 0.01 10.60"/>
<text x="182.8" y="195.56" class="b" font-size="12.50">10 mm</text>
<line x1="233.2" y1="191.5" x2="265.0" y2="191.5" stroke="#000000" stroke-width="2.65" stroke-linecap="round"/>
<text x="268.9" y="195.56" class="b" font-size="12.50">Test</text>
<line x1="44.20" y1="4.50" x2="44.20" y2="207.00" class="ax"/>
<line x1="43.20" y1="206.00" x2="327.60" y2="206.00" class="ax"/>
<line x1="44.20" y1="172.57" x2="48.40" y2="172.57" class="tk"/>
<line x1="44.20" y1="139.13" x2="48.40" y2="139.13" class="tk"/>
<line x1="44.20" y1="105.70" x2="48.40" y2="105.70" class="tk"/>
<line x1="44.20" y1="72.27" x2="48.40" y2="72.27" class="tk"/>
<line x1="44.20" y1="38.83" x2="48.40" y2="38.83" class="tk"/>
<line x1="44.20" y1="5.40" x2="48.40" y2="5.40" class="tk"/>
<line x1="100.68" y1="206.00" x2="100.68" y2="201.80" class="tk"/>
<line x1="157.16" y1="206.00" x2="157.16" y2="201.80" class="tk"/>
<line x1="213.64" y1="206.00" x2="213.64" y2="201.80" class="tk"/>
<line x1="270.12" y1="206.00" x2="270.12" y2="201.80" class="tk"/>
<line x1="326.60" y1="206.00" x2="326.60" y2="201.80" class="tk"/>
<text x="32.20" y="210.20" class="b" text-anchor="end" font-size="14.00">0</text>
<text x="32.20" y="176.77" class="b" text-anchor="end" font-size="14.00">10</text>
<text x="32.20" y="143.33" class="b" text-anchor="end" font-size="14.00">20</text>
<text x="32.20" y="109.90" class="b" text-anchor="end" font-size="14.00">30</text>
<text x="32.20" y="76.47" class="b" text-anchor="end" font-size="14.00">40</text>
<text x="32.20" y="43.03" class="b" text-anchor="end" font-size="14.00">50</text>
<text x="32.20" y="9.60" class="b" text-anchor="end" font-size="14.00">60</text>
<text x="44.20" y="227.30" class="b" text-anchor="middle" font-size="14.00">0</text>
<text x="100.68" y="227.30" class="b" text-anchor="middle" font-size="14.00">5</text>
<text x="157.16" y="227.30" class="b" text-anchor="middle" font-size="14.00">10</text>
<text x="213.64" y="227.30" class="b" text-anchor="middle" font-size="14.00">15</text>
<text x="270.12" y="227.30" class="b" text-anchor="middle" font-size="14.00">20</text>
<text x="326.60" y="227.30" class="b" text-anchor="middle" font-size="14.00">25</text>
<text x="184.70" y="248.00" class="b" text-anchor="middle" font-size="15.25">Rotation (°) x 10<tspan dy="-4.1" font-size="9.80">-3</tspan></text>
<text transform="translate(11.40,105.70) rotate(-90)" class="b" text-anchor="middle" font-size="15.25">Moment (kN.m)</text>
<text x="188.8" y="281.3" class="r" text-anchor="middle" font-size="23">(a)</text>
<line x1="397.20" y1="172.52" x2="678.20" y2="172.52" class="g" stroke-dasharray="5.30 3.55"/>
<line x1="397.20" y1="139.23" x2="678.20" y2="139.23" class="g" stroke-dasharray="5.30 3.55"/>
<line x1="397.20" y1="105.95" x2="678.20" y2="105.95" class="g" stroke-dasharray="5.30 3.55"/>
<line x1="397.20" y1="72.67" x2="678.20" y2="72.67" class="g" stroke-dasharray="5.30 3.55"/>
<line x1="397.20" y1="39.38" x2="678.20" y2="39.38" class="g" stroke-dasharray="5.30 3.55"/>
<line x1="397.20" y1="6.10" x2="678.20" y2="6.10" class="g" stroke-dasharray="5.30 3.55"/>
<line x1="453.40" y1="205.80" x2="453.40" y2="6.10" class="g" stroke-dasharray="5.30 3.55"/>
<line x1="509.60" y1="205.80" x2="509.60" y2="6.10" class="g" stroke-dasharray="5.30 3.55"/>
<line x1="565.80" y1="205.80" x2="565.80" y2="6.10" class="g" stroke-dasharray="5.30 3.55"/>
<line x1="622.00" y1="205.80" x2="622.00" y2="6.10" class="g" stroke-dasharray="5.30 3.55"/>
<line x1="678.20" y1="205.80" x2="678.20" y2="6.10" class="g" stroke-dasharray="5.30 3.55"/>
<polyline points="397.20,205.80 397.95,204.77 398.70,203.75 399.46,202.73 400.21,201.72 400.96,200.70 401.71,199.69 402.46,198.69 403.21,197.69 403.97,196.69 404.72,195.69 405.47,194.70 406.22,193.71 406.97,192.73 407.73,191.75 408.48,190.77 409.23,189.80 409.98,188.83 410.73,187.85 411.48,186.88 412.24,185.91 412.99,184.95 413.74,183.99 414.49,183.03 415.24,182.07 416.00,181.12 416.75,180.18 417.50,179.24 418.25,178.30 419.00,177.38 419.76,176.46 420.51,175.55 421.26,174.64 422.01,173.75 422.76,172.86 423.51,171.98 424.27,171.10 425.02,170.23 425.77,169.36 426.52,168.50 427.27,167.64 428.03,166.79 428.78,165.94 429.53,165.10 430.28,164.26 431.03,163.43 431.78,162.61 432.54,161.79 433.29,160.98 434.04,160.17 434.79,159.37 435.54,158.58 436.30,157.79 437.05,157.01 437.80,156.24 438.55,155.47 439.30,154.70 440.05,153.94 440.81,153.18 441.56,152.43 442.31,151.68 443.06,150.94 443.81,150.20 444.57,149.47 445.32,148.74 446.07,148.02 446.82,147.30 447.57,146.59 448.33,145.88 449.08,145.17 449.83,144.48 450.58,143.78 451.33,143.10 452.08,142.41 452.84,141.73 453.59,141.06 454.34,140.39 455.09,139.73 455.84,139.07 456.60,138.41 457.35,137.76 458.10,137.11 458.85,136.47 459.60,135.83 460.35,135.19 461.11,134.55 461.86,133.92 462.61,133.29 463.36,132.66 464.11,132.04 464.87,131.42 465.62,130.80 466.37,130.19 467.12,129.57 467.87,128.96 468.62,128.36 469.38,127.75 470.13,127.15 470.88,126.55 471.63,125.95 472.38,125.36 473.14,124.76 473.89,124.17 474.64,123.58 475.39,122.99 476.14,122.40 476.89,121.82 477.65,121.24 478.40,120.65 479.15,120.07 479.90,119.49 480.65,118.91 481.41,118.34 482.16,117.76 482.91,117.18 483.66,116.61 484.41,116.03 485.17,115.46 485.92,114.89 486.67,114.31 487.42,113.74 488.17,113.17 488.92,112.60 489.68,112.03 490.43,111.47 491.18,110.90 491.93,110.34 492.68,109.78 493.44,109.22 494.19,108.67 494.94,108.11 495.69,107.56 496.44,107.01 497.19,106.47 497.95,105.92 498.70,105.38 499.45,104.85 500.20,104.31 500.95,103.78 501.71,103.25 502.46,102.73 503.21,102.21 503.96,101.70 504.71,101.18 505.46,100.68 506.22,100.17 506.97,99.67 507.72,99.18 508.47,98.69 509.22,98.20 509.98,97.72 510.73,97.24 511.48,96.76 512.23,96.29 512.98,95.81 513.74,95.34 514.49,94.87 515.24,94.41 515.99,93.94 516.74,93.48 517.49,93.02 518.25,92.57 519.00,92.11 519.75,91.66 520.50,91.22 521.25,90.78 522.01,90.34 522.76,89.91 523.51,89.48 524.26,89.06 525.01,88.64 525.76,88.23 526.52,87.82 527.27,87.42 528.02,87.02 528.77,86.63 529.52,86.24 530.28,85.86 531.03,85.49 531.78,85.13 532.53,84.77 533.28,84.41 534.03,84.06 534.79,83.71 535.54,83.37 536.29,83.03 537.04,82.69 537.79,82.36 538.55,82.03 539.30,81.71 540.05,81.39 540.80,81.08 541.55,80.77 542.31,80.46 543.06,80.16 543.81,79.87 544.56,79.58 545.31,79.29 546.06,79.01 546.82,78.74 547.57,78.47 548.32,78.21 549.07,77.95 549.82,77.69 550.58,77.42 551.33,77.15 552.08,76.88 552.83,76.62 553.58,76.35 554.33,76.10 555.09,75.86 555.84,75.63 556.59,75.41 557.34,75.21 558.09,75.03 558.85,74.88 559.60,74.75 560.35,74.64 561.10,74.55 561.85,74.45 562.60,74.37 563.36,74.28 564.11,74.21 564.86,74.14 565.61,74.08 566.36,74.04 567.12,74.01 567.87,74.00 568.62,74.01 569.37,74.04 570.12,74.09 570.87,74.17 571.63,74.27 572.38,74.38 573.13,74.51 573.88,74.65 574.63,74.80 575.39,74.96 576.14,75.12 576.89,75.29 577.64,75.49 578.39,75.73 579.15,76.03 579.90,76.37 580.65,76.75 581.40,77.16 582.15,77.60 582.90,78.07 583.66,78.56 584.41,79.06 585.16,79.56 585.91,80.08 586.66,80.59 587.42,81.09 588.17,81.58 588.92,82.07 589.67,82.58 590.42,83.10 591.17,83.64 591.93,84.20 592.68,84.76 593.43,85.33 594.18,85.91 594.93,86.49 595.69,87.07 596.44,87.65 597.19,88.23 597.94,88.80 598.69,89.37 599.44,89.92 600.20,90.46 600.95,91.00 601.70,91.54 602.45,92.08 603.20,92.62 603.96,93.15 604.71,93.68 605.46,94.21 606.21,94.75 606.96,95.28 607.72,95.81 608.47,96.34 609.22,96.87 609.97,97.40 610.72,97.94 611.47,98.47 612.23,99.00 612.98,99.54 613.73,100.07 614.48,100.61 615.23,101.14 615.99,101.68 616.74,102.21 617.49,102.74 618.24,103.28 618.99,103.81 619.74,104.35 620.50,104.88 621.25,105.42 622.00,105.95" fill="none" stroke="#843c0c" stroke-width="2.65" stroke-linejoin="round" stroke-linecap="round" stroke-dasharray="0.01 5.80"/>
<polyline points="397.20,205.80 397.95,204.81 398.70,203.82 399.46,202.83 400.21,201.85 400.96,200.88 401.71,199.91 402.46,198.95 403.21,197.99 403.97,197.04 404.72,196.09 405.47,195.15 406.22,194.21 406.97,193.28 407.73,192.36 408.48,191.44 409.23,190.53 409.98,189.62 410.73,188.72 411.48,187.82 412.24,186.92 412.99,186.03 413.74,185.14 414.49,184.26 415.24,183.38 416.00,182.51 416.75,181.65 417.50,180.79 418.25,179.93 419.00,179.08 419.76,178.24 420.51,177.41 421.26,176.58 422.01,175.75 422.76,174.94 423.51,174.13 424.27,173.32 425.02,172.52 425.77,171.72 426.52,170.93 427.27,170.14 428.03,169.36 428.78,168.58 429.53,167.81 430.28,167.04 431.03,166.28 431.78,165.52 432.54,164.77 433.29,164.02 434.04,163.28 434.79,162.55 435.54,161.82 436.30,161.10 437.05,160.38 437.80,159.67 438.55,158.97 439.30,158.27 440.05,157.57 440.81,156.88 441.56,156.19 442.31,155.50 443.06,154.82 443.81,154.15 444.57,153.48 445.32,152.81 446.07,152.15 446.82,151.49 447.57,150.83 448.33,150.18 449.08,149.54 449.83,148.89 450.58,148.25 451.33,147.62 452.08,146.99 452.84,146.36 453.59,145.73 454.34,145.11 455.09,144.49 455.84,143.87 456.60,143.26 457.35,142.65 458.10,142.03 458.85,141.43 459.60,140.82 460.35,140.22 461.11,139.62 461.86,139.02 462.61,138.42 463.36,137.83 464.11,137.23 464.87,136.64 465.62,136.06 466.37,135.47 467.12,134.89 467.87,134.31 468.62,133.73 469.38,133.16 470.13,132.59 470.88,132.02 471.63,131.45 472.38,130.89 473.14,130.33 473.89,129.77 474.64,129.21 475.39,128.66 476.14,128.11 476.89,127.56 477.65,127.01 478.40,126.47 479.15,125.93 479.90,125.39 480.65,124.85 481.41,124.32 482.16,123.79 482.91,123.27 483.66,122.74 484.41,122.22 485.17,121.70 485.92,121.18 486.67,120.66 487.42,120.15 488.17,119.64 488.92,119.13 489.68,118.62 490.43,118.12 491.18,117.62 491.93,117.12 492.68,116.62 493.44,116.12 494.19,115.63 494.94,115.14 495.69,114.65 496.44,114.16 497.19,113.67 497.95,113.19 498.70,112.71 499.45,112.23 500.20,111.75 500.95,111.28 501.71,110.80 502.46,110.33 503.21,109.86 503.96,109.40 504.71,108.93 505.46,108.47 506.22,108.01 506.97,107.55 507.72,107.09 508.47,106.63 509.22,106.18 509.98,105.72 510.73,105.27 511.48,104.82 512.23,104.37 512.98,103.92 513.74,103.47 514.49,103.02 515.24,102.57 515.99,102.13 516.74,101.68 517.49,101.24 518.25,100.80 519.00,100.36 519.75,99.93 520.50,99.50 521.25,99.07 522.01,98.64 522.76,98.22 523.51,97.80 524.26,97.38 525.01,96.97 525.76,96.56 526.52,96.15 527.27,95.75 528.02,95.36 528.77,94.97 529.52,94.58 530.28,94.20 531.03,93.82 531.78,93.45 532.53,93.08 533.28,92.72 534.03,92.35 534.79,91.99 535.54,91.62 536.29,91.26 537.04,90.90 537.79,90.55 538.55,90.20 539.30,89.85 540.05,89.51 540.80,89.17 541.55,88.84 542.31,88.51 543.06,88.19 543.81,87.88 544.56,87.58 545.31,87.28 546.06,86.99 546.82,86.71 547.57,86.44 548.32,86.19 549.07,85.94 549.82,85.69 550.58,85.43 551.33,85.18 552.08,84.92 552.83,84.67 553.58,84.43 554.33,84.19 555.09,83.97 555.84,83.76 556.59,83.57 557.34,83.40 558.09,83.25 558.85,83.13 559.60,83.04 560.35,82.97 561.10,82.92 561.85,82.87 562.60,82.83 563.36,82.79 564.11,82.75 564.86,82.72 565.61,82.69 566.36,82.67 567.12,82.66 567.87,82.65 568.62,82.66 569.37,82.68 570.12,82.72 570.87,82.78 571.63,82.85 572.38,82.93 573.13,83.03 573.88,83.13 574.63,83.24 575.39,83.37 576.14,83.49 576.89,83.62 577.64,83.77 578.39,83.98 579.15,84.23 579.90,84.52 580.65,84.86 581.40,85.22 582.15,85.62 582.90,86.04 583.66,86.48 584.41,86.93 585.16,87.39 585.91,87.86 586.66,88.33 587.42,88.79 588.17,89.24 588.92,89.69 589.67,90.17 590.42,90.67 591.17,91.18 591.93,91.71 592.68,92.25 593.43,92.80 594.18,93.36 594.93,93.93 595.69,94.49 596.44,95.06 597.19,95.62 597.94,96.17 598.69,96.71 599.44,97.24 600.20,97.77 600.95,98.29 601.70,98.80 602.45,99.32 603.20,99.83 603.96,100.34 604.71,100.85 605.46,101.36 606.21,101.87 606.96,102.38 607.72,102.89 608.47,103.40 609.22,103.90 609.97,104.41 610.72,104.93 611.47,105.44 612.23,105.95 612.98,106.46 613.73,106.97 614.48,107.49 615.23,108.00 615.99,108.51 616.74,109.02 617.49,109.53 618.24,110.05 618.99,110.56 619.74,111.07 620.50,111.58 621.25,112.09 622.00,112.61" fill="none" stroke="#7030a0" stroke-width="2.65" stroke-linejoin="round" stroke-linecap="round" stroke-dasharray="4.40 5.60"/>
<polyline points="397.20,205.80 397.95,204.89 398.70,203.99 399.46,203.10 400.21,202.20 400.96,201.32 401.71,200.44 402.46,199.56 403.21,198.69 403.97,197.83 404.72,196.97 405.47,196.12 406.22,195.28 406.97,194.44 407.73,193.60 408.48,192.78 409.23,191.96 409.98,191.14 410.73,190.33 411.48,189.53 412.24,188.73 412.99,187.94 413.74,187.15 414.49,186.36 415.24,185.58 416.00,184.80 416.75,184.03 417.50,183.27 418.25,182.51 419.00,181.75 419.76,180.99 420.51,180.24 421.26,179.50 422.01,178.76 422.76,178.02 423.51,177.29 424.27,176.56 425.02,175.83 425.77,175.11 426.52,174.39 427.27,173.68 428.03,172.96 428.78,172.26 429.53,171.55 430.28,170.85 431.03,170.16 431.78,169.47 432.54,168.78 433.29,168.10 434.04,167.42 434.79,166.74 435.54,166.07 436.30,165.41 437.05,164.75 437.80,164.09 438.55,163.43 439.30,162.77 440.05,162.12 440.81,161.47 441.56,160.82 442.31,160.17 443.06,159.53 443.81,158.89 444.57,158.26 445.32,157.63 446.07,157.00 446.82,156.38 447.57,155.77 448.33,155.16 449.08,154.55 449.83,153.96 450.58,153.37 451.33,152.78 452.08,152.21 452.84,151.64 453.59,151.08 454.34,150.52 455.09,149.97 455.84,149.42 456.60,148.87 457.35,148.33 458.10,147.80 458.85,147.27 459.60,146.74 460.35,146.21 461.11,145.69 461.86,145.17 462.61,144.65 463.36,144.14 464.11,143.63 464.87,143.13 465.62,142.62 466.37,142.12 467.12,141.63 467.87,141.13 468.62,140.64 469.38,140.15 470.13,139.67 470.88,139.18 471.63,138.70 472.38,138.22 473.14,137.74 473.89,137.27 474.64,136.80 475.39,136.33 476.14,135.86 476.89,135.39 477.65,134.93 478.40,134.47 479.15,134.01 479.90,133.55 480.65,133.09 481.41,132.63 482.16,132.18 482.91,131.73 483.66,131.28 484.41,130.83 485.17,130.39 485.92,129.95 486.67,129.51 487.42,129.07 488.17,128.64 488.92,128.21 489.68,127.78 490.43,127.35 491.18,126.92 491.93,126.50 492.68,126.08 493.44,125.66 494.19,125.24 494.94,124.82 495.69,124.40 496.44,123.99 497.19,123.58 497.95,123.17 498.70,122.76 499.45,122.35 500.20,121.94 500.95,121.54 501.71,121.13 502.46,120.73 503.21,120.33 503.96,119.92 504.71,119.52 505.46,119.12 506.22,118.72 506.97,118.32 507.72,117.93 508.47,117.53 509.22,117.13 509.98,116.74 510.73,116.34 511.48,115.94 512.23,115.54 512.98,115.14 513.74,114.75 514.49,114.35 515.24,113.95 515.99,113.55 516.74,113.16 517.49,112.76 518.25,112.37 519.00,111.98 519.75,111.59 520.50,111.20 521.25,110.82 522.01,110.43 522.76,110.05 523.51,109.67 524.26,109.30 525.01,108.93 525.76,108.56 526.52,108.19 527.27,107.83 528.02,107.47 528.77,107.12 529.52,106.77 530.28,106.43 531.03,106.09 531.78,105.75 532.53,105.42 533.28,105.09 534.03,104.77 534.79,104.46 535.54,104.14 536.29,103.84 537.04,103.53 537.79,103.23 538.55,102.93 539.30,102.64 540.05,102.35 540.80,102.06 541.55,101.78 542.31,101.50 543.06,101.22 543.81,100.94 544.56,100.66 545.31,100.37 546.06,100.07 546.82,99.78 547.57,99.48 548.32,99.20 549.07,98.91 549.82,98.64 550.58,98.38 551.33,98.13 552.08,97.91 552.83,97.69 553.58,97.51 554.33,97.34 555.09,97.20 555.84,97.05 556.59,96.91 557.34,96.76 558.09,96.63 558.85,96.49 559.60,96.37 560.35,96.25 561.10,96.15 561.85,96.05 562.60,95.97 563.36,95.90 564.11,95.85 564.86,95.81 565.61,95.80 566.36,95.80 567.12,95.82 567.87,95.86 568.62,95.91 569.37,95.97 570.12,96.05 570.87,96.13 571.63,96.23 572.38,96.34 573.13,96.45 573.88,96.57 574.63,96.70 575.39,96.83 576.14,96.96 576.89,97.10 577.64,97.25 578.39,97.45 579.15,97.67 579.90,97.93 580.65,98.22 581.40,98.53 582.15,98.87 582.90,99.22 583.66,99.59 584.41,99.97 585.16,100.35 585.91,100.74 586.66,101.13 587.42,101.52 588.17,101.90 588.92,102.28 589.67,102.68 590.42,103.09 591.17,103.51 591.93,103.95 592.68,104.39 593.43,104.84 594.18,105.30 594.93,105.77 595.69,106.24 596.44,106.71 597.19,107.18 597.94,107.64 598.69,108.11 599.44,108.57 600.20,109.02 600.95,109.48 601.70,109.95 602.45,110.41 603.20,110.88 603.96,111.35 604.71,111.82 605.46,112.29 606.21,112.76 606.96,113.23 607.72,113.70 608.47,114.17 609.22,114.64 609.97,115.11 610.72,115.58 611.47,116.05 612.23,116.51 612.98,116.98 613.73,117.45 614.48,117.92 615.23,118.38 615.99,118.85 616.74,119.32 617.49,119.79 618.24,120.25 618.99,120.72 619.74,121.19 620.50,121.66 621.25,122.12 622.00,122.59" fill="none" stroke="#0a0aff" stroke-width="2.65" stroke-linejoin="round" stroke-linecap="round"/>
<polyline points="397.20,205.80 397.95,205.00 398.70,204.21 399.46,203.43 400.21,202.65 400.96,201.87 401.71,201.11 402.46,200.34 403.21,199.58 403.97,198.83 404.72,198.08 405.47,197.34 406.22,196.61 406.97,195.88 407.73,195.16 408.48,194.45 409.23,193.74 409.98,193.04 410.73,192.34 411.48,191.64 412.24,190.95 412.99,190.27 413.74,189.59 414.49,188.91 415.24,188.24 416.00,187.58 416.75,186.92 417.50,186.26 418.25,185.61 419.00,184.96 419.76,184.32 420.51,183.69 421.26,183.06 422.01,182.43 422.76,181.81 423.51,181.19 424.27,180.56 425.02,179.94 425.77,179.32 426.52,178.70 427.27,178.09 428.03,177.48 428.78,176.88 429.53,176.28 430.28,175.69 431.03,175.11 431.78,174.54 432.54,173.98 433.29,173.42 434.04,172.88 434.79,172.36 435.54,171.84 436.30,171.34 437.05,170.86 437.80,170.38 438.55,169.90 439.30,169.44 440.05,168.98 440.81,168.52 441.56,168.07 442.31,167.63 443.06,167.20 443.81,166.77 444.57,166.34 445.32,165.93 446.07,165.52 446.82,165.11 447.57,164.72 448.33,164.33 449.08,163.94 449.83,163.57 450.58,163.19 451.33,162.83 452.08,162.47 452.84,162.12 453.59,161.78 454.34,161.44 455.09,161.10 455.84,160.76 456.60,160.42 457.35,160.09 458.10,159.77 458.85,159.46 459.60,159.16 460.35,158.87 461.11,158.61 461.86,158.35 462.61,158.12 463.36,157.91 464.11,157.73 464.87,157.57 465.62,157.44 466.37,157.31 467.12,157.19 467.87,157.07 468.62,156.93 469.38,156.77 470.13,156.58 470.88,156.34 471.63,156.04 472.38,155.68 473.14,155.28 473.89,154.85 474.64,154.39 475.39,153.91 476.14,153.42 476.89,152.94 477.65,152.47 478.40,152.02 479.15,151.60 479.90,151.21 480.65,150.82 481.41,150.43 482.16,150.05 482.91,149.67 483.66,149.29 484.41,148.92 485.17,148.54 485.92,148.17 486.67,147.80 487.42,147.44 488.17,147.07 488.92,146.71 489.68,146.35 490.43,145.99 491.18,145.63 491.93,145.27 492.68,144.92 493.44,144.56 494.19,144.22 494.94,143.88 495.69,143.54 496.44,143.20 497.19,142.87 497.95,142.55 498.70,142.22 499.45,141.89 500.20,141.57 500.95,141.24 501.71,140.92 502.46,140.59 503.21,140.26 503.96,139.92 504.71,139.58 505.46,139.24 506.22,138.89 506.97,138.54 507.72,138.18 508.47,137.81 509.22,137.43 509.98,137.04 510.73,136.64 511.48,136.22 512.23,135.80 512.98,135.36 513.74,134.91 514.49,134.46 515.24,133.99 515.99,133.52 516.74,133.05 517.49,132.58 518.25,132.10 519.00,131.63 519.75,131.16 520.50,130.69 521.25,130.22 522.01,129.77 522.76,129.31 523.51,128.87 524.26,128.44 525.01,128.02 525.76,127.61 526.52,127.22 527.27,126.82 528.02,126.41 528.77,125.98 529.52,125.56 530.28,125.13 531.03,124.71 531.78,124.31 532.53,123.94 533.28,123.59 534.03,123.28 534.79,123.01 535.54,122.80 536.29,122.64 537.04,122.53 537.79,122.43 538.55,122.33 539.30,122.23 540.05,122.15 540.80,122.06 541.55,121.99 542.31,121.92 543.06,121.85 543.81,121.79 544.56,121.74 545.31,121.69 546.06,121.66 546.82,121.63 547.57,121.61 548.32,121.60 549.07,121.59 549.82,121.60 550.58,121.61 551.33,121.62 552.08,121.64 552.83,121.67 553.58,121.70 554.33,121.73 555.09,121.77 555.84,121.81 556.59,121.86 557.34,121.91 558.09,121.96 558.85,122.01 559.60,122.07 560.35,122.13 561.10,122.19 561.85,122.25 562.60,122.31 563.36,122.38 564.11,122.44 564.86,122.51 565.61,122.58 566.36,122.64 567.12,122.72 567.87,122.80 568.62,122.89 569.37,122.99 570.12,123.09 570.87,123.20 571.63,123.31 572.38,123.43 573.13,123.55 573.88,123.68 574.63,123.81 575.39,123.95 576.14,124.09 576.89,124.23 577.64,124.37 578.39,124.52 579.15,124.68 579.90,124.85 580.65,125.02 581.40,125.20 582.15,125.39 582.90,125.58 583.66,125.78 584.41,125.99 585.16,126.20 585.91,126.41 586.66,126.63 587.42,126.86 588.17,127.09 588.92,127.32 589.67,127.56 590.42,127.80 591.17,128.05 591.93,128.30 592.68,128.55 593.43,128.81 594.18,129.09 594.93,129.38 595.69,129.68 596.44,129.99 597.19,130.31 597.94,130.64 598.69,130.98 599.44,131.32 600.20,131.67 600.95,132.01 601.70,132.36 602.45,132.71 603.20,133.05 603.96,133.39 604.71,133.72 605.46,134.05 606.21,134.37 606.96,134.70 607.72,135.02 608.47,135.35 609.22,135.67 609.97,136.00 610.72,136.33 611.47,136.65 612.23,136.98 612.98,137.30 613.73,137.63 614.48,137.96 615.23,138.28 615.99,138.61 616.74,138.94 617.49,139.26 618.24,139.59 618.99,139.92 619.74,140.25 620.50,140.57 621.25,140.90 622.00,141.23" fill="none" stroke="#ff0000" stroke-width="2.65" stroke-linejoin="round" stroke-linecap="round" stroke-dasharray="6.80 10.60 0.01 10.60"/>
<polyline points="397.20,205.80 397.90,204.99 398.59,204.20 399.29,203.42 399.98,202.66 400.68,201.90 401.37,201.16 402.07,200.44 402.76,199.72 403.46,198.99 404.15,198.28 404.85,197.59 405.55,196.93 406.24,196.32 406.94,195.76 407.63,195.30 408.33,194.87 409.02,194.37 409.72,193.67 410.41,192.57 411.11,191.49 411.80,190.74 412.50,190.09 413.20,189.52 413.89,188.98 414.59,188.47 415.28,187.95 415.98,187.40 416.67,186.85 417.37,186.32 418.06,185.80 418.76,185.27 419.45,184.71 420.15,184.12 420.85,183.50 421.54,182.90 422.24,182.06 422.93,180.03 423.63,177.98 424.32,177.01 425.02,176.21 425.71,175.56 426.41,175.00 427.10,174.52 427.80,174.07 428.50,173.63 429.19,173.15 429.89,172.61 430.58,172.01 431.28,171.41 431.97,170.81 432.67,170.23 433.36,169.70 434.06,169.23 434.75,168.84 435.45,168.51 436.15,168.23 436.84,167.97 437.54,167.70 438.23,167.41 438.93,167.07 439.62,166.65 440.32,166.14 441.01,165.58 441.71,164.99 442.40,164.42 443.10,163.88 443.80,163.42 444.49,163.01 445.19,162.64 445.88,162.28 446.58,161.93 447.27,161.57 447.97,161.19 448.66,160.77 449.36,160.34 450.05,159.88 450.75,159.42 451.45,158.95 452.14,158.47 452.84,157.99 453.53,157.50 454.23,157.02 454.92,156.55 455.62,156.08 456.31,155.60 457.01,155.13 457.70,154.65 458.40,154.17 459.10,153.68 459.79,153.18 460.49,152.67 461.18,152.15 461.88,151.62 462.57,151.07 463.27,150.46 463.96,149.80 464.66,149.10 465.35,148.40 466.05,147.69 466.75,147.02 467.44,146.40 468.14,145.85 468.83,145.39 469.53,145.03 470.22,144.73 470.92,144.46 471.61,144.21 472.31,143.98 473.00,143.76 473.70,143.54 474.40,143.33 475.09,143.13 475.79,142.95 476.48,142.76 477.18,142.55 477.87,142.32 478.57,142.06 479.26,141.75 479.96,141.42 480.65,141.06 481.35,140.67 482.05,140.26 482.74,139.82 483.44,139.34 484.13,138.80 484.83,138.21 485.52,137.59 486.22,136.95 486.91,136.31 487.61,135.68 488.30,135.08 489.00,134.52 489.70,134.00 490.39,133.49 491.09,132.99 491.78,132.49 492.48,132.02 493.17,131.57 493.87,131.16 494.56,130.78 495.26,130.46 495.95,130.18 496.65,129.93 497.35,129.71 498.04,129.49 498.74,129.27 499.43,129.04 500.13,128.78 500.82,128.49 501.52,128.15 502.21,127.77 502.91,127.36 503.60,126.93 504.30,126.48 504.99,126.01 505.69,125.55 506.39,125.09 507.08,124.65 507.78,124.22 508.47,123.83 509.17,123.46 509.86,123.14 510.56,122.83 511.25,122.54 511.95,122.26 512.64,121.99 513.34,121.73 514.04,121.47 514.73,121.22 515.43,120.98 516.12,120.75 516.82,120.51 517.51,120.28 518.21,120.05 518.90,119.83 519.60,119.61 520.29,119.40 520.99,119.19 521.69,118.99 522.38,118.80 523.08,118.60 523.77,118.40 524.47,118.20 525.16,118.00 525.86,117.79 526.55,117.57 527.25,117.36 527.94,117.16 528.64,116.96 529.34,116.77 530.03,116.56 530.73,116.33 531.42,116.08 532.12,115.80 532.81,115.47 533.51,115.07 534.20,114.45 534.90,113.67 535.59,112.87 536.29,112.17 536.99,111.65 537.68,111.18 538.38,110.75 539.07,110.34 539.77,109.95 540.46,109.59 541.16,109.25 541.85,108.92 542.55,108.61 543.24,108.31 543.94,108.01 544.64,107.70 545.33,107.39 546.03,107.08 546.72,106.79 547.42,106.53 548.11,106.30 548.81,106.12 549.50,106.00 550.20,105.94 550.89,105.91 551.59,105.88 552.29,105.86 552.98,105.84 553.68,105.83 554.37,105.81 555.07,105.80 555.76,105.79 556.46,105.78 557.15,105.77 557.85,105.76 558.54,105.75 559.24,105.74 559.94,105.73 560.63,105.71 561.33,105.70 562.02,105.68 562.72,105.65 563.41,105.62 564.11,105.58 564.80,105.51 565.50,105.41 566.19,105.30 566.89,105.16 567.59,105.02 568.28,104.87 568.98,104.73 569.67,104.59 570.37,104.45 571.06,104.34 571.76,104.24 572.45,104.13 573.15,104.02 573.84,103.91 574.54,103.81 575.24,103.73 575.93,103.66 576.63,103.63 577.32,103.62 578.02,103.63 578.71,103.65 579.41,103.68 580.10,103.73 580.80,103.78 581.49,103.84 582.19,103.90 582.89,103.99 583.58,104.25 584.28,104.68 584.97,105.24 585.67,105.89 586.36,106.57 587.06,107.25 587.75,107.87 588.45,108.40 589.14,108.90 589.84,109.39 590.54,109.89 591.23,110.36 591.93,110.82 592.62,111.25 593.32,111.64 594.01,111.99 594.71,112.29 595.40,112.53 596.10,112.75 596.79,112.95 597.49,113.15 598.19,113.38 598.88,113.65 599.58,113.98 600.27,114.39 600.97,114.97 601.66,115.75 602.36,116.72 603.05,117.89 603.75,119.43 604.44,121.94 605.14,128.58" fill="none" stroke="#000000" stroke-width="2.65" stroke-linejoin="round" stroke-linecap="round"/>
<rect x="501" y="151" width="171" height="49.5" fill="#fff"/>
<line x1="516.3" y1="159.6" x2="548.1" y2="159.6" stroke="#843c0c" stroke-width="2.65" stroke-linecap="round" stroke-dasharray="0.01 5.80"/>
<text x="551.6" y="163.66" class="b" font-size="12.50">30</text>
<line x1="598.7" y1="159.6" x2="631.1" y2="159.6" stroke="#7030a0" stroke-width="2.65" stroke-linecap="round" stroke-dasharray="4.40 5.60"/>
<text x="634.6" y="163.66" class="b" font-size="12.50">25</text>
<line x1="516.3" y1="175.5" x2="548.1" y2="175.5" stroke="#0a0aff" stroke-width="2.65" stroke-linecap="round"/>
<text x="551.6" y="179.56" class="b" font-size="12.50">20</text>
<line x1="598.7" y1="175.5" x2="631.1" y2="175.5" stroke="#ff0000" stroke-width="2.65" stroke-linecap="round" stroke-dasharray="6.80 10.60 0.01 10.60"/>
<text x="634.6" y="179.56" class="b" font-size="12.50">15</text>
<line x1="516.3" y1="191.9" x2="548.1" y2="191.9" stroke="#000000" stroke-width="2.65" stroke-linecap="round"/>
<text x="551.6" y="195.96" class="b" font-size="12.50">Test</text>
<line x1="397.20" y1="5.20" x2="397.20" y2="206.80" class="ax"/>
<line x1="396.20" y1="205.80" x2="679.20" y2="205.80" class="ax"/>
<line x1="397.20" y1="172.52" x2="401.40" y2="172.52" class="tk"/>
<line x1="397.20" y1="139.23" x2="401.40" y2="139.23" class="tk"/>
<line x1="397.20" y1="105.95" x2="401.40" y2="105.95" class="tk"/>
<line x1="397.20" y1="72.67" x2="401.40" y2="72.67" class="tk"/>
<line x1="397.20" y1="39.38" x2="401.40" y2="39.38" class="tk"/>
<line x1="397.20" y1="6.10" x2="401.40" y2="6.10" class="tk"/>
<line x1="453.40" y1="205.80" x2="453.40" y2="201.60" class="tk"/>
<line x1="509.60" y1="205.80" x2="509.60" y2="201.60" class="tk"/>
<line x1="565.80" y1="205.80" x2="565.80" y2="201.60" class="tk"/>
<line x1="622.00" y1="205.80" x2="622.00" y2="201.60" class="tk"/>
<line x1="678.20" y1="205.80" x2="678.20" y2="201.60" class="tk"/>
<text x="385.40" y="210.00" class="b" text-anchor="end" font-size="14.00">0</text>
<text x="385.40" y="176.72" class="b" text-anchor="end" font-size="14.00">10</text>
<text x="385.40" y="143.43" class="b" text-anchor="end" font-size="14.00">20</text>
<text x="385.40" y="110.15" class="b" text-anchor="end" font-size="14.00">30</text>
<text x="385.40" y="76.87" class="b" text-anchor="end" font-size="14.00">40</text>
<text x="385.40" y="43.58" class="b" text-anchor="end" font-size="14.00">50</text>
<text x="385.40" y="10.30" class="b" text-anchor="end" font-size="14.00">60</text>
<text x="397.20" y="227.30" class="b" text-anchor="middle" font-size="14.00">0</text>
<text x="453.40" y="227.30" class="b" text-anchor="middle" font-size="14.00">5</text>
<text x="509.60" y="227.30" class="b" text-anchor="middle" font-size="14.00">10</text>
<text x="565.80" y="227.30" class="b" text-anchor="middle" font-size="14.00">15</text>
<text x="622.00" y="227.30" class="b" text-anchor="middle" font-size="14.00">20</text>
<text x="678.20" y="227.30" class="b" text-anchor="middle" font-size="14.00">25</text>
<text x="537.70" y="247.80" class="b" text-anchor="middle" font-size="15.25">Rotation (°) x 10<tspan dy="-4.1" font-size="9.80">-3</tspan></text>
<text transform="translate(364.70,105.95) rotate(-90)" class="b" text-anchor="middle" font-size="15.25">Moment (kN.m)</text>
<text x="490.3" y="281.7" class="r" text-anchor="middle" font-size="23">(b)</text>
<line x1="213.80" y1="495.92" x2="509.50" y2="495.92" class="g" stroke-dasharray="5.57 3.73"/>
<line x1="213.80" y1="460.83" x2="509.50" y2="460.83" class="g" stroke-dasharray="5.57 3.73"/>
<line x1="213.80" y1="425.75" x2="509.50" y2="425.75" class="g" stroke-dasharray="5.57 3.73"/>
<line x1="213.80" y1="390.67" x2="509.50" y2="390.67" class="g" stroke-dasharray="5.57 3.73"/>
<line x1="213.80" y1="355.58" x2="509.50" y2="355.58" class="g" stroke-dasharray="5.57 3.73"/>
<line x1="213.80" y1="320.50" x2="509.50" y2="320.50" class="g" stroke-dasharray="5.57 3.73"/>
<line x1="272.94" y1="531.00" x2="272.94" y2="320.50" class="g" stroke-dasharray="5.57 3.73"/>
<line x1="332.08" y1="531.00" x2="332.08" y2="320.50" class="g" stroke-dasharray="5.57 3.73"/>
<line x1="391.22" y1="531.00" x2="391.22" y2="320.50" class="g" stroke-dasharray="5.57 3.73"/>
<line x1="450.36" y1="531.00" x2="450.36" y2="320.50" class="g" stroke-dasharray="5.57 3.73"/>
<line x1="509.50" y1="531.00" x2="509.50" y2="320.50" class="g" stroke-dasharray="5.57 3.73"/>
<polyline points="213.80,531.00 214.59,529.91 215.38,528.83 216.17,527.74 216.96,526.67 217.76,525.60 218.55,524.53 219.34,523.47 220.13,522.41 220.92,521.36 221.71,520.31 222.50,519.27 223.29,518.24 224.09,517.21 224.88,516.18 225.67,515.16 226.46,514.15 227.25,513.13 228.04,512.12 228.83,511.12 229.62,510.11 230.41,509.11 231.21,508.12 232.00,507.13 232.79,506.15 233.58,505.17 234.37,504.19 235.16,503.22 235.95,502.26 236.74,501.31 237.54,500.36 238.33,499.42 239.12,498.49 239.91,497.57 240.70,496.65 241.49,495.74 242.28,494.83 243.07,493.93 243.86,493.04 244.66,492.14 245.45,491.26 246.24,490.38 247.03,489.50 247.82,488.63 248.61,487.77 249.40,486.91 250.19,486.06 250.99,485.22 251.78,484.38 252.57,483.55 253.36,482.72 254.15,481.90 254.94,481.09 255.73,480.29 256.52,479.48 257.31,478.68 258.11,477.88 258.90,477.08 259.69,476.28 260.48,475.49 261.27,474.70 262.06,473.92 262.85,473.14 263.64,472.37 264.43,471.61 265.23,470.85 266.02,470.10 266.81,469.36 267.60,468.63 268.39,467.91 269.18,467.20 269.97,466.50 270.76,465.82 271.56,465.14 272.35,464.48 273.14,463.83 273.93,463.19 274.72,462.56 275.51,461.94 276.30,461.32 277.09,460.72 277.88,460.12 278.68,459.53 279.47,458.94 280.26,458.36 281.05,457.79 281.84,457.22 282.63,456.66 283.42,456.10 284.21,455.55 285.01,455.00 285.80,454.46 286.59,453.92 287.38,453.38 288.17,452.84 288.96,452.31 289.75,451.78 290.54,451.26 291.33,450.73 292.13,450.21 292.92,449.68 293.71,449.16 294.50,448.64 295.29,448.12 296.08,447.59 296.87,447.07 297.66,446.54 298.46,446.02 299.25,445.49 300.04,444.96 300.83,444.43 301.62,443.90 302.41,443.36 303.20,442.82 303.99,442.28 304.78,441.74 305.58,441.20 306.37,440.65 307.16,440.11 307.95,439.57 308.74,439.03 309.53,438.48 310.32,437.94 311.11,437.40 311.91,436.86 312.70,436.32 313.49,435.78 314.28,435.24 315.07,434.70 315.86,434.16 316.65,433.63 317.44,433.10 318.23,432.56 319.03,432.03 319.82,431.50 320.61,430.98 321.40,430.45 322.19,429.93 322.98,429.41 323.77,428.89 324.56,428.38 325.36,427.87 326.15,427.36 326.94,426.85 327.73,426.35 328.52,425.85 329.31,425.35 330.10,424.86 330.89,424.37 331.68,423.89 332.48,423.40 333.27,422.93 334.06,422.45 334.85,421.97 335.64,421.50 336.43,421.03 337.22,420.56 338.01,420.10 338.80,419.63 339.60,419.17 340.39,418.71 341.18,418.26 341.97,417.80 342.76,417.35 343.55,416.90 344.34,416.45 345.13,416.01 345.93,415.57 346.72,415.13 347.51,414.69 348.30,414.26 349.09,413.83 349.88,413.40 350.67,412.97 351.46,412.55 352.25,412.13 353.05,411.71 353.84,411.30 354.63,410.88 355.42,410.48 356.21,410.07 357.00,409.66 357.79,409.25 358.58,408.83 359.38,408.41 360.17,408.00 360.96,407.58 361.75,407.17 362.54,406.76 363.33,406.35 364.12,405.95 364.91,405.56 365.70,405.17 366.50,404.79 367.29,404.41 368.08,404.05 368.87,403.69 369.66,403.35 370.45,403.02 371.24,402.71 372.03,402.40 372.83,402.12 373.62,401.85 374.41,401.58 375.20,401.32 375.99,401.06 376.78,400.80 377.57,400.55 378.36,400.31 379.15,400.07 379.95,399.85 380.74,399.64 381.53,399.44 382.32,399.26 383.11,399.09 383.90,398.95 384.69,398.82 385.48,398.71 386.28,398.61 387.07,398.52 387.86,398.42 388.65,398.34 389.44,398.26 390.23,398.19 391.02,398.13 391.81,398.08 392.60,398.05 393.40,398.03 394.19,398.04 394.98,398.08 395.77,398.14 396.56,398.22 397.35,398.32 398.14,398.44 398.93,398.58 399.73,398.73 400.52,398.88 401.31,399.05 402.10,399.23 402.89,399.40 403.68,399.60 404.47,399.84 405.26,400.12 406.05,400.44 406.85,400.80 407.64,401.19 408.43,401.60 409.22,402.04 410.01,402.49 410.80,402.96 411.59,403.43 412.38,403.91 413.17,404.39 413.97,404.87 414.76,405.33 415.55,405.80 416.34,406.29 417.13,406.79 417.92,407.31 418.71,407.84 419.50,408.38 420.30,408.94 421.09,409.50 421.88,410.06 422.67,410.63 423.46,411.19 424.25,411.76 425.04,412.32 425.83,412.87 426.62,413.42 427.42,413.96 428.21,414.50 429.00,415.04 429.79,415.58 430.58,416.13 431.37,416.67 432.16,417.22 432.95,417.76 433.75,418.30 434.54,418.84 435.33,419.38 436.12,419.92 436.91,420.45 437.70,420.98 438.49,421.51 439.28,422.04 440.07,422.57 440.87,423.09 441.66,423.61 442.45,424.13 443.24,424.65 444.03,425.17 444.82,425.69 445.61,426.20 446.40,426.72 447.20,427.23 447.99,427.74 448.78,428.25 449.57,428.75 450.36,429.26" fill="none" stroke="#7030a0" stroke-width="2.78" stroke-linejoin="round" stroke-linecap="round" stroke-dasharray="4.62 5.88"/>
<polyline points="213.80,531.00 214.59,530.04 215.38,529.09 216.17,528.15 216.96,527.21 217.76,526.28 218.55,525.35 219.34,524.43 220.13,523.51 220.92,522.60 221.71,521.69 222.50,520.80 223.29,519.91 224.09,519.02 224.88,518.14 225.67,517.27 226.46,516.41 227.25,515.55 228.04,514.70 228.83,513.85 229.62,513.01 230.41,512.17 231.21,511.34 232.00,510.51 232.79,509.69 233.58,508.87 234.37,508.06 235.16,507.25 235.95,506.45 236.74,505.65 237.54,504.85 238.33,504.06 239.12,503.28 239.91,502.50 240.70,501.72 241.49,500.95 242.28,500.18 243.07,499.41 243.86,498.65 244.66,497.89 245.45,497.14 246.24,496.39 247.03,495.64 247.82,494.90 248.61,494.16 249.40,493.43 250.19,492.70 250.99,491.98 251.78,491.26 252.57,490.54 253.36,489.83 254.15,489.13 254.94,488.43 255.73,487.73 256.52,487.03 257.31,486.34 258.11,485.65 258.90,484.96 259.69,484.27 260.48,483.59 261.27,482.91 262.06,482.23 262.85,481.56 263.64,480.89 264.43,480.22 265.23,479.56 266.02,478.91 266.81,478.26 267.60,477.62 268.39,476.98 269.18,476.35 269.97,475.73 270.76,475.12 271.56,474.51 272.35,473.91 273.14,473.32 273.93,472.73 274.72,472.15 275.51,471.57 276.30,471.00 277.09,470.43 277.88,469.86 278.68,469.30 279.47,468.74 280.26,468.19 281.05,467.64 281.84,467.09 282.63,466.55 283.42,466.01 284.21,465.47 285.01,464.94 285.80,464.41 286.59,463.88 287.38,463.36 288.17,462.83 288.96,462.32 289.75,461.80 290.54,461.29 291.33,460.78 292.13,460.27 292.92,459.77 293.71,459.26 294.50,458.76 295.29,458.27 296.08,457.77 296.87,457.28 297.66,456.79 298.46,456.30 299.25,455.81 300.04,455.32 300.83,454.84 301.62,454.36 302.41,453.88 303.20,453.40 303.99,452.92 304.78,452.45 305.58,451.98 306.37,451.51 307.16,451.05 307.95,450.58 308.74,450.12 309.53,449.67 310.32,449.21 311.11,448.76 311.91,448.31 312.70,447.86 313.49,447.41 314.28,446.96 315.07,446.52 315.86,446.08 316.65,445.64 317.44,445.20 318.23,444.77 319.03,444.33 319.82,443.90 320.61,443.47 321.40,443.04 322.19,442.61 322.98,442.18 323.77,441.75 324.56,441.33 325.36,440.90 326.15,440.48 326.94,440.06 327.73,439.64 328.52,439.21 329.31,438.79 330.10,438.37 330.89,437.96 331.68,437.54 332.48,437.12 333.27,436.70 334.06,436.28 334.85,435.86 335.64,435.44 336.43,435.02 337.22,434.60 338.01,434.18 338.80,433.77 339.60,433.35 340.39,432.93 341.18,432.52 341.97,432.11 342.76,431.70 343.55,431.29 344.34,430.88 345.13,430.48 345.93,430.07 346.72,429.68 347.51,429.28 348.30,428.89 349.09,428.50 349.88,428.11 350.67,427.73 351.46,427.36 352.25,426.98 353.05,426.61 353.84,426.25 354.63,425.89 355.42,425.54 356.21,425.19 357.00,424.85 357.79,424.51 358.58,424.18 359.38,423.85 360.17,423.52 360.96,423.20 361.75,422.88 362.54,422.57 363.33,422.26 364.12,421.96 364.91,421.65 365.70,421.36 366.50,421.06 367.29,420.77 368.08,420.47 368.87,420.17 369.66,419.86 370.45,419.55 371.24,419.24 372.03,418.93 372.83,418.63 373.62,418.33 374.41,418.05 375.20,417.77 375.99,417.51 376.78,417.27 377.57,417.05 378.36,416.85 379.15,416.68 379.95,416.52 380.74,416.37 381.53,416.22 382.32,416.07 383.11,415.92 383.90,415.78 384.69,415.65 385.48,415.53 386.28,415.42 387.07,415.32 387.86,415.23 388.65,415.16 389.44,415.10 390.23,415.07 391.02,415.05 391.81,415.05 392.60,415.08 393.40,415.11 394.19,415.17 394.98,415.23 395.77,415.31 396.56,415.40 397.35,415.51 398.14,415.62 398.93,415.74 399.73,415.86 400.52,416.00 401.31,416.14 402.10,416.28 402.89,416.42 403.68,416.58 404.47,416.79 405.26,417.03 406.05,417.30 406.85,417.60 407.64,417.93 408.43,418.29 409.22,418.66 410.01,419.04 410.80,419.44 411.59,419.85 412.38,420.26 413.17,420.67 413.97,421.08 414.76,421.48 415.55,421.88 416.34,422.30 417.13,422.73 417.92,423.18 418.71,423.64 419.50,424.11 420.30,424.59 421.09,425.07 421.88,425.56 422.67,426.05 423.46,426.55 424.25,427.04 425.04,427.53 425.83,428.02 426.62,428.51 427.42,428.99 428.21,429.48 429.00,429.96 429.79,430.45 430.58,430.94 431.37,431.44 432.16,431.93 432.95,432.43 433.75,432.93 434.54,433.42 435.33,433.92 436.12,434.42 436.91,434.91 437.70,435.41 438.49,435.90 439.28,436.39 440.07,436.89 440.87,437.38 441.66,437.87 442.45,438.36 443.24,438.86 444.03,439.35 444.82,439.84 445.61,440.33 446.40,440.83 447.20,441.32 447.99,441.81 448.78,442.31 449.57,442.80 450.36,443.29" fill="none" stroke="#0a0aff" stroke-width="2.78" stroke-linejoin="round" stroke-linecap="round"/>
<polyline points="213.80,531.00 214.59,529.95 215.38,528.91 216.17,527.87 216.96,526.84 217.76,525.81 218.55,524.79 219.34,523.78 220.13,522.77 220.92,521.76 221.71,520.76 222.50,519.77 223.29,518.78 224.09,517.81 224.88,516.83 225.67,515.87 226.46,514.91 227.25,513.95 228.04,513.00 228.83,512.05 229.62,511.11 230.41,510.17 231.21,509.24 232.00,508.32 232.79,507.39 233.58,506.48 234.37,505.57 235.16,504.66 235.95,503.76 236.74,502.86 237.54,501.97 238.33,501.08 239.12,500.20 239.91,499.33 240.70,498.46 241.49,497.59 242.28,496.72 243.07,495.85 243.86,494.99 244.66,494.13 245.45,493.27 246.24,492.42 247.03,491.58 247.82,490.74 248.61,489.91 249.40,489.08 250.19,488.26 250.99,487.45 251.78,486.65 252.57,485.85 253.36,485.07 254.15,484.30 254.94,483.53 255.73,482.78 256.52,482.03 257.31,481.29 258.11,480.55 258.90,479.82 259.69,479.09 260.48,478.37 261.27,477.66 262.06,476.95 262.85,476.24 263.64,475.55 264.43,474.86 265.23,474.17 266.02,473.49 266.81,472.82 267.60,472.16 268.39,471.50 269.18,470.85 269.97,470.20 270.76,469.57 271.56,468.94 272.35,468.31 273.14,467.70 273.93,467.09 274.72,466.48 275.51,465.88 276.30,465.29 277.09,464.70 277.88,464.12 278.68,463.54 279.47,462.97 280.26,462.40 281.05,461.83 281.84,461.27 282.63,460.72 283.42,460.16 284.21,459.61 285.01,459.07 285.80,458.52 286.59,457.98 287.38,457.45 288.17,456.91 288.96,456.38 289.75,455.85 290.54,455.32 291.33,454.80 292.13,454.28 292.92,453.75 293.71,453.23 294.50,452.72 295.29,452.20 296.08,451.68 296.87,451.17 297.66,450.65 298.46,450.14 299.25,449.62 300.04,449.11 300.83,448.59 301.62,448.08 302.41,447.57 303.20,447.05 303.99,446.54 304.78,446.03 305.58,445.52 306.37,445.01 307.16,444.50 307.95,443.99 308.74,443.49 309.53,442.98 310.32,442.48 311.11,441.98 311.91,441.48 312.70,440.98 313.49,440.49 314.28,439.99 315.07,439.50 315.86,439.01 316.65,438.52 317.44,438.03 318.23,437.54 319.03,437.05 319.82,436.57 320.61,436.08 321.40,435.60 322.19,435.12 322.98,434.64 323.77,434.17 324.56,433.69 325.36,433.22 326.15,432.75 326.94,432.28 327.73,431.81 328.52,431.34 329.31,430.87 330.10,430.41 330.89,429.95 331.68,429.49 332.48,429.03 333.27,428.57 334.06,428.11 334.85,427.66 335.64,427.20 336.43,426.75 337.22,426.29 338.01,425.84 338.80,425.39 339.60,424.94 340.39,424.49 341.18,424.04 341.97,423.60 342.76,423.16 343.55,422.72 344.34,422.28 345.13,421.84 345.93,421.41 346.72,420.98 347.51,420.55 348.30,420.12 349.09,419.70 349.88,419.28 350.67,418.86 351.46,418.45 352.25,418.04 353.05,417.63 353.84,417.23 354.63,416.83 355.42,416.43 356.21,416.04 357.00,415.65 357.79,415.25 358.58,414.85 359.38,414.46 360.17,414.06 360.96,413.66 361.75,413.27 362.54,412.88 363.33,412.49 364.12,412.11 364.91,411.73 365.70,411.36 366.50,411.00 367.29,410.64 368.08,410.29 368.87,409.96 369.66,409.63 370.45,409.31 371.24,409.00 372.03,408.71 372.83,408.43 373.62,408.16 374.41,407.90 375.20,407.64 375.99,407.37 376.78,407.12 377.57,406.86 378.36,406.62 379.15,406.38 379.95,406.15 380.74,405.94 381.53,405.74 382.32,405.56 383.11,405.39 383.90,405.25 384.69,405.13 385.48,405.03 386.28,404.94 387.07,404.85 387.86,404.77 388.65,404.69 389.44,404.62 390.23,404.55 391.02,404.49 391.81,404.44 392.60,404.40 393.40,404.37 394.19,404.35 394.98,404.35 395.77,404.36 396.56,404.39 397.35,404.44 398.14,404.49 398.93,404.56 399.73,404.64 400.52,404.73 401.31,404.83 402.10,404.93 402.89,405.03 403.68,405.15 404.47,405.31 405.26,405.51 406.05,405.74 406.85,406.01 407.64,406.30 408.43,406.61 409.22,406.95 410.01,407.30 410.80,407.67 411.59,408.04 412.38,408.42 413.17,408.80 413.97,409.18 414.76,409.56 415.55,409.94 416.34,410.34 417.13,410.76 417.92,411.21 418.71,411.67 419.50,412.14 420.30,412.63 421.09,413.12 421.88,413.62 422.67,414.12 423.46,414.62 424.25,415.12 425.04,415.62 425.83,416.10 426.62,416.58 427.42,417.05 428.21,417.52 429.00,417.99 429.79,418.46 430.58,418.93 431.37,419.40 432.16,419.87 432.95,420.34 433.75,420.81 434.54,421.27 435.33,421.74 436.12,422.21 436.91,422.68 437.70,423.15 438.49,423.62 439.28,424.09 440.07,424.56 440.87,425.03 441.66,425.50 442.45,425.97 443.24,426.44 444.03,426.91 444.82,427.38 445.61,427.85 446.40,428.31 447.20,428.78 447.99,429.25 448.78,429.72 449.57,430.19 450.36,430.66" fill="none" stroke="#ff0000" stroke-width="2.78" stroke-linejoin="round" stroke-linecap="round" stroke-dasharray="7.14 11.13 0.01 11.13"/>
<polyline points="213.80,531.00 214.53,530.15 215.26,529.32 216.00,528.49 216.73,527.69 217.46,526.89 218.19,526.11 218.92,525.35 219.65,524.59 220.39,523.83 221.12,523.08 221.85,522.35 222.58,521.66 223.31,521.00 224.05,520.41 224.78,519.93 225.51,519.48 226.24,518.95 226.97,518.22 227.70,517.06 228.44,515.92 229.17,515.13 229.90,514.44 230.63,513.84 231.36,513.27 232.10,512.73 232.83,512.18 233.56,511.60 234.29,511.03 235.02,510.47 235.75,509.92 236.49,509.36 237.22,508.77 237.95,508.15 238.68,507.50 239.41,506.86 240.15,505.98 240.88,503.83 241.61,501.67 242.34,500.65 243.07,499.81 243.81,499.12 244.54,498.54 245.27,498.03 246.00,497.56 246.73,497.09 247.46,496.59 248.20,496.01 248.93,495.39 249.66,494.75 250.39,494.11 251.12,493.51 251.86,492.94 252.59,492.45 253.32,492.04 254.05,491.69 254.78,491.40 255.51,491.12 256.25,490.84 256.98,490.54 257.71,490.18 258.44,489.73 259.17,489.20 259.91,488.60 260.64,487.99 261.37,487.38 262.10,486.82 262.83,486.33 263.56,485.90 264.30,485.51 265.03,485.13 265.76,484.76 266.49,484.38 267.22,483.97 267.96,483.54 268.69,483.08 269.42,482.60 270.15,482.11 270.88,481.61 271.61,481.11 272.35,480.60 273.08,480.09 273.81,479.59 274.54,479.09 275.27,478.59 276.01,478.09 276.74,477.59 277.47,477.08 278.20,476.57 278.93,476.06 279.66,475.53 280.40,475.00 281.13,474.45 281.86,473.89 282.59,473.31 283.32,472.67 284.06,471.97 284.79,471.24 285.52,470.49 286.25,469.75 286.98,469.04 287.72,468.39 288.45,467.81 289.18,467.32 289.91,466.95 290.64,466.62 291.37,466.34 292.11,466.08 292.84,465.84 293.57,465.61 294.30,465.37 295.03,465.15 295.77,464.94 296.50,464.75 297.23,464.55 297.96,464.33 298.69,464.09 299.42,463.81 300.16,463.49 300.89,463.14 301.62,462.76 302.35,462.35 303.08,461.91 303.82,461.46 304.55,460.94 305.28,460.37 306.01,459.75 306.74,459.10 307.47,458.43 308.21,457.75 308.94,457.09 309.67,456.46 310.40,455.86 311.13,455.32 311.87,454.78 312.60,454.25 313.33,453.73 314.06,453.23 314.79,452.76 315.52,452.32 316.26,451.93 316.99,451.58 317.72,451.29 318.45,451.03 319.18,450.79 319.92,450.56 320.65,450.33 321.38,450.09 322.11,449.82 322.84,449.51 323.57,449.15 324.31,448.75 325.04,448.32 325.77,447.86 326.50,447.39 327.23,446.90 327.97,446.41 328.70,445.93 329.43,445.46 330.16,445.01 330.89,444.59 331.63,444.21 332.36,443.87 333.09,443.55 333.82,443.24 334.55,442.94 335.28,442.66 336.02,442.38 336.75,442.11 337.48,441.85 338.21,441.60 338.94,441.35 339.68,441.10 340.41,440.86 341.14,440.62 341.87,440.38 342.60,440.15 343.33,439.93 344.07,439.71 344.80,439.50 345.53,439.29 346.26,439.08 346.99,438.88 347.73,438.67 348.46,438.45 349.19,438.23 349.92,438.00 350.65,437.78 351.38,437.57 352.12,437.36 352.85,437.15 353.58,436.93 354.31,436.70 355.04,436.43 355.78,436.13 356.51,435.79 357.24,435.37 357.97,434.71 358.70,433.89 359.43,433.04 360.17,432.31 360.90,431.76 361.63,431.27 362.36,430.81 363.09,430.37 363.83,429.97 364.56,429.59 365.29,429.23 366.02,428.88 366.75,428.56 367.48,428.24 368.22,427.92 368.95,427.59 369.68,427.26 370.41,426.94 371.14,426.64 371.88,426.36 372.61,426.12 373.34,425.93 374.07,425.80 374.80,425.74 375.54,425.71 376.27,425.68 377.00,425.66 377.73,425.64 378.46,425.62 379.19,425.60 379.93,425.59 380.66,425.58 381.39,425.57 382.12,425.56 382.85,425.55 383.59,425.54 384.32,425.53 385.05,425.52 385.78,425.50 386.51,425.48 387.24,425.46 387.98,425.44 388.71,425.41 389.44,425.36 390.17,425.29 390.90,425.18 391.64,425.06 392.37,424.92 393.10,424.77 393.83,424.62 394.56,424.46 395.29,424.31 396.03,424.17 396.76,424.05 397.49,423.95 398.22,423.83 398.95,423.72 399.69,423.60 400.42,423.50 401.15,423.41 401.88,423.34 402.61,423.30 403.34,423.30 404.08,423.31 404.81,423.33 405.54,423.36 406.27,423.41 407.00,423.46 407.74,423.52 408.47,423.59 409.20,423.68 409.93,423.95 410.66,424.41 411.39,425.00 412.13,425.68 412.86,426.41 413.59,427.12 414.32,427.78 415.05,428.33 415.79,428.86 416.52,429.38 417.25,429.90 417.98,430.40 418.71,430.89 419.45,431.34 420.18,431.75 420.91,432.12 421.64,432.43 422.37,432.69 423.10,432.91 423.84,433.13 424.57,433.34 425.30,433.59 426.03,433.87 426.76,434.22 427.50,434.65 428.23,435.26 428.96,436.08 429.69,437.10 430.42,438.33 431.15,439.95 431.89,442.61 432.62,449.61" fill="none" stroke="#000000" stroke-width="2.78" stroke-linejoin="round" stroke-linecap="round"/>
<rect x="323" y="474" width="180" height="51.5" fill="#fff"/>
<line x1="336.4" y1="487" x2="369.2" y2="487" stroke="#7030a0" stroke-width="2.78" stroke-linecap="round" stroke-dasharray="4.62 5.88"/>
<text x="373.6" y="491.27" class="b" font-size="13.12">0.1</text>
<line x1="424.1" y1="487" x2="456.6" y2="487" stroke="#0a0aff" stroke-width="2.78" stroke-linecap="round"/>
<text x="460.6" y="491.27" class="b" font-size="13.12">0.001</text>
<line x1="336.4" y1="512.4" x2="369.2" y2="512.4" stroke="#ff0000" stroke-width="2.78" stroke-linecap="round" stroke-dasharray="7.14 11.13 0.01 11.13"/>
<text x="373.6" y="516.67" class="b" font-size="13.12">0.01</text>
<line x1="424.1" y1="512.4" x2="456.6" y2="512.4" stroke="#000000" stroke-width="2.78" stroke-linecap="round"/>
<text x="460.6" y="516.67" class="b" font-size="13.12">Test</text>
<line x1="213.80" y1="319.60" x2="213.80" y2="532.00" class="ax"/>
<line x1="212.80" y1="531.00" x2="510.50" y2="531.00" class="ax"/>
<line x1="213.80" y1="495.92" x2="218.21" y2="495.92" class="tk"/>
<line x1="213.80" y1="460.83" x2="218.21" y2="460.83" class="tk"/>
<line x1="213.80" y1="425.75" x2="218.21" y2="425.75" class="tk"/>
<line x1="213.80" y1="390.67" x2="218.21" y2="390.67" class="tk"/>
<line x1="213.80" y1="355.58" x2="218.21" y2="355.58" class="tk"/>
<line x1="213.80" y1="320.50" x2="218.21" y2="320.50" class="tk"/>
<line x1="272.94" y1="531.00" x2="272.94" y2="526.59" class="tk"/>
<line x1="332.08" y1="531.00" x2="332.08" y2="526.59" class="tk"/>
<line x1="391.22" y1="531.00" x2="391.22" y2="526.59" class="tk"/>
<line x1="450.36" y1="531.00" x2="450.36" y2="526.59" class="tk"/>
<line x1="509.50" y1="531.00" x2="509.50" y2="526.59" class="tk"/>
<text x="200.80" y="535.41" class="b" text-anchor="end" font-size="14.70">0</text>
<text x="200.80" y="500.33" class="b" text-anchor="end" font-size="14.70">10</text>
<text x="200.80" y="465.24" class="b" text-anchor="end" font-size="14.70">20</text>
<text x="200.80" y="430.16" class="b" text-anchor="end" font-size="14.70">30</text>
<text x="200.80" y="395.08" class="b" text-anchor="end" font-size="14.70">40</text>
<text x="200.80" y="359.99" class="b" text-anchor="end" font-size="14.70">50</text>
<text x="200.80" y="324.91" class="b" text-anchor="end" font-size="14.70">60</text>
<text x="213.80" y="553.30" class="b" text-anchor="middle" font-size="14.70">0</text>
<text x="272.94" y="553.30" class="b" text-anchor="middle" font-size="14.70">5</text>
<text x="332.08" y="553.30" class="b" text-anchor="middle" font-size="14.70">10</text>
<text x="391.22" y="553.30" class="b" text-anchor="middle" font-size="14.70">15</text>
<text x="450.36" y="553.30" class="b" text-anchor="middle" font-size="14.70">20</text>
<text x="509.50" y="553.30" class="b" text-anchor="middle" font-size="14.70">25</text>
<text x="361.65" y="575.20" class="b" text-anchor="middle" font-size="16.01">Rotation (°) x 10<tspan dy="-4.3" font-size="10.29">-3</tspan></text>
<text transform="translate(179.60,425.75) rotate(-90)" class="b" text-anchor="middle" font-size="16.01">Moment (kN.m)</text>
<text x="364.4" y="608.6" class="r" text-anchor="middle" font-size="23">(c)</text>
</svg>
</body></html>
